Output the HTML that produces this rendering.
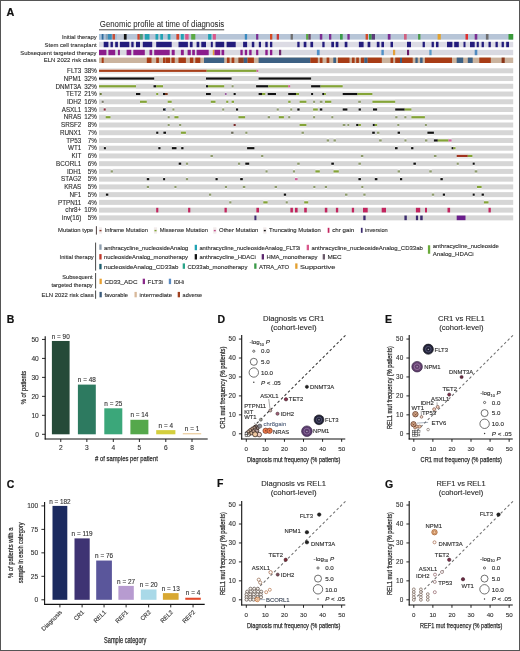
<!DOCTYPE html>
<html><head><meta charset="utf-8"><style>
html,body{margin:0;padding:0;background:#fff;width:520px;height:651px;overflow:hidden;}
svg text{font-family:"Liberation Sans", sans-serif;}
svg{will-change:transform;}
</style></head><body>
<svg width="520" height="651" viewBox="0 0 520 651" style="position:absolute;left:0;top:0" font-family='"Liberation Sans", sans-serif'><rect x="0.00" y="0.00" width="520.00" height="651.00" fill="#ffffff" /><text x="6.60" y="15.60" font-size="10.8" text-anchor="start" fill="#111" font-weight="bold" stroke="#111" stroke-width="0.2"   style="">A</text><text x="99.80" y="26.70" font-size="8.5" text-anchor="start" fill="#2b2b2b" font-weight="normal" stroke="#2b2b2b" stroke-width="0.05" textLength="124.30" lengthAdjust="spacingAndGlyphs"  style="">Genomic profile at time of diagnosis</text><line x1="99" y1="29.8" x2="224.2" y2="29.8" stroke="#333" stroke-width="0.9"/><rect x="99.00" y="34.00" width="414.20" height="5.60" fill="#b7c5d7" /><rect x="99.00" y="34.00" width="2.70" height="5.60" fill="#a7c2dc" /><rect x="101.70" y="34.00" width="2.00" height="5.60" fill="#2f6b9c" /><rect x="103.70" y="34.00" width="2.00" height="5.60" fill="#a7c2dc" /><rect x="105.70" y="34.00" width="2.10" height="5.60" fill="#8aa0b4" /><rect x="107.80" y="34.00" width="4.00" height="5.60" fill="#3a8eb9" /><rect x="112.50" y="34.00" width="2.70" height="5.60" fill="#c4503a" /><rect x="115.20" y="34.00" width="1.80" height="5.60" fill="#a7c2dc" /><rect x="117.00" y="34.00" width="6.90" height="5.60" fill="#c3cad6" /><rect x="123.90" y="34.00" width="2.70" height="5.60" fill="#141414" /><rect x="137.40" y="34.00" width="2.40" height="5.60" fill="#d2452f" /><rect x="139.80" y="34.00" width="3.00" height="5.60" fill="#4a9a7a" /><rect x="144.80" y="34.00" width="4.70" height="5.60" fill="#22a3b4" /><rect x="155.50" y="34.00" width="2.70" height="5.60" fill="#22a3b4" /><rect x="160.30" y="34.00" width="2.70" height="5.60" fill="#22a3b4" /><rect x="167.70" y="34.00" width="2.70" height="5.60" fill="#22a3b4" /><rect x="176.40" y="34.00" width="2.70" height="5.60" fill="#d2452f" /><rect x="180.90" y="34.00" width="2.90" height="5.60" fill="#22a3b4" /><rect x="185.20" y="34.00" width="3.40" height="5.60" fill="#d9588c" /><rect x="191.20" y="34.00" width="4.10" height="5.60" fill="#5aa944" /><rect x="208.10" y="34.00" width="3.30" height="5.60" fill="#22a3b4" /><rect x="212.80" y="34.00" width="3.10" height="5.60" fill="#d9588c" /><rect x="244.80" y="34.00" width="2.30" height="5.60" fill="#3a8ac0" /><rect x="256.10" y="34.00" width="2.20" height="5.60" fill="#7b2e92" /><rect x="270.00" y="34.00" width="2.30" height="5.60" fill="#d44a22" /><rect x="276.70" y="34.00" width="2.30" height="5.60" fill="#c83a3a" /><rect x="290.60" y="34.00" width="2.30" height="5.60" fill="#6e6e6e" /><rect x="306.10" y="34.00" width="2.30" height="5.60" fill="#5aa944" /><rect x="308.40" y="34.00" width="2.30" height="5.60" fill="#6a4a6a" /><rect x="319.80" y="34.00" width="2.50" height="5.60" fill="#7b2e92" /><rect x="329.00" y="34.00" width="2.30" height="5.60" fill="#7b2e92" /><rect x="340.00" y="34.00" width="2.70" height="5.60" fill="#3a9a4a" /><rect x="347.40" y="34.00" width="2.30" height="5.60" fill="#7b2e92" /><rect x="365.60" y="34.00" width="2.40" height="5.60" fill="#d44a2a" /><rect x="369.00" y="34.00" width="2.70" height="5.60" fill="#3a9a4a" /><rect x="371.70" y="34.00" width="3.30" height="5.60" fill="#5a3d78" /><rect x="387.80" y="34.00" width="2.70" height="5.60" fill="#7b2e92" /><rect x="404.00" y="34.00" width="2.70" height="5.60" fill="#d06080" /><rect x="418.10" y="34.00" width="2.30" height="5.60" fill="#4a9a4a" /><rect x="437.60" y="34.00" width="3.20" height="5.60" fill="#e0a232" /><rect x="465.50" y="34.00" width="2.50" height="5.60" fill="#e03030" /><rect x="474.70" y="34.00" width="2.60" height="5.60" fill="#7b2e92" /><rect x="485.90" y="34.00" width="2.60" height="5.60" fill="#6e6e6e" /><rect x="508.50" y="34.00" width="4.70" height="5.60" fill="#3a9a3a" /><rect x="99.00" y="41.80" width="414.20" height="5.40" fill="#dcdbe4" /><rect x="103.70" y="41.80" width="4.70" height="5.40" fill="#241c7c" /><rect x="110.50" y="41.80" width="2.40" height="5.40" fill="#241c7c" /><rect x="115.20" y="41.80" width="2.70" height="5.40" fill="#241c7c" /><rect x="119.90" y="41.80" width="9.40" height="5.40" fill="#241c7c" /><rect x="131.30" y="41.80" width="2.30" height="5.40" fill="#241c7c" /><rect x="136.00" y="41.80" width="4.00" height="5.40" fill="#241c7c" /><rect x="142.80" y="41.80" width="9.40" height="5.40" fill="#241c7c" /><rect x="156.20" y="41.80" width="15.50" height="5.40" fill="#241c7c" /><rect x="178.50" y="41.80" width="9.40" height="5.40" fill="#241c7c" /><rect x="189.90" y="41.80" width="2.70" height="5.40" fill="#241c7c" /><rect x="196.60" y="41.80" width="2.70" height="5.40" fill="#241c7c" /><rect x="201.30" y="41.80" width="4.70" height="5.40" fill="#241c7c" /><rect x="210.80" y="41.80" width="2.00" height="5.40" fill="#241c7c" /><rect x="215.50" y="41.80" width="8.70" height="5.40" fill="#241c7c" /><rect x="226.60" y="41.80" width="9.10" height="5.40" fill="#241c7c" /><rect x="243.10" y="41.80" width="4.00" height="5.40" fill="#241c7c" /><rect x="251.80" y="41.80" width="2.50" height="5.40" fill="#241c7c" /><rect x="258.80" y="41.80" width="2.20" height="5.40" fill="#241c7c" /><rect x="265.30" y="41.80" width="2.40" height="5.40" fill="#241c7c" /><rect x="270.00" y="41.80" width="2.30" height="5.40" fill="#241c7c" /><rect x="297.30" y="41.80" width="2.30" height="5.40" fill="#241c7c" /><rect x="303.70" y="41.80" width="2.70" height="5.40" fill="#241c7c" /><rect x="310.40" y="41.80" width="2.70" height="5.40" fill="#241c7c" /><rect x="322.30" y="41.80" width="2.30" height="5.40" fill="#241c7c" /><rect x="331.30" y="41.80" width="2.70" height="5.40" fill="#241c7c" /><rect x="335.70" y="41.80" width="2.70" height="5.40" fill="#241c7c" /><rect x="344.70" y="41.80" width="2.70" height="5.40" fill="#241c7c" /><rect x="358.90" y="41.80" width="4.70" height="5.40" fill="#241c7c" /><rect x="367.60" y="41.80" width="2.70" height="5.40" fill="#241c7c" /><rect x="376.80" y="41.80" width="2.70" height="5.40" fill="#241c7c" /><rect x="381.40" y="41.80" width="2.60" height="5.40" fill="#241c7c" /><rect x="390.50" y="41.80" width="2.50" height="5.40" fill="#241c7c" /><rect x="407.00" y="41.80" width="4.00" height="5.40" fill="#241c7c" /><rect x="422.60" y="41.80" width="2.30" height="5.40" fill="#241c7c" /><rect x="431.60" y="41.80" width="2.30" height="5.40" fill="#241c7c" /><rect x="436.00" y="41.80" width="2.50" height="5.40" fill="#241c7c" /><rect x="447.00" y="41.80" width="5.40" height="5.40" fill="#241c7c" /><rect x="454.20" y="41.80" width="4.60" height="5.40" fill="#241c7c" /><rect x="463.50" y="41.80" width="2.00" height="5.40" fill="#241c7c" /><rect x="470.00" y="41.80" width="4.70" height="5.40" fill="#241c7c" /><rect x="476.70" y="41.80" width="2.10" height="5.40" fill="#241c7c" /><rect x="481.60" y="41.80" width="2.30" height="5.40" fill="#241c7c" /><rect x="488.50" y="41.80" width="2.30" height="5.40" fill="#241c7c" /><rect x="495.50" y="41.80" width="2.30" height="5.40" fill="#241c7c" /><rect x="501.60" y="41.80" width="2.30" height="5.40" fill="#241c7c" /><rect x="506.20" y="41.80" width="2.80" height="5.40" fill="#241c7c" /><rect x="99.00" y="49.80" width="414.20" height="5.40" fill="#d9d9e1" /><rect x="99.00" y="49.80" width="7.40" height="5.40" fill="#8b1c8c" /><rect x="108.40" y="49.80" width="6.80" height="5.40" fill="#8b1c8c" /><rect x="117.90" y="49.80" width="2.00" height="5.40" fill="#8b1c8c" /><rect x="126.60" y="49.80" width="4.70" height="5.40" fill="#8b1c8c" /><rect x="133.30" y="49.80" width="11.50" height="5.40" fill="#8b1c8c" /><rect x="149.50" y="49.80" width="2.70" height="5.40" fill="#8b1c8c" /><rect x="154.20" y="49.80" width="15.50" height="5.40" fill="#8b1c8c" /><rect x="171.70" y="49.80" width="3.00" height="5.40" fill="#8b1c8c" /><rect x="180.90" y="49.80" width="2.90" height="5.40" fill="#8b1c8c" /><rect x="187.60" y="49.80" width="3.20" height="5.40" fill="#8b1c8c" /><rect x="192.20" y="49.80" width="2.70" height="5.40" fill="#8b1c8c" /><rect x="196.60" y="49.80" width="12.10" height="5.40" fill="#8b1c8c" /><rect x="212.80" y="49.80" width="1.70" height="5.40" fill="#e3a03a" /><rect x="214.50" y="49.80" width="5.70" height="5.40" fill="#8b1c8c" /><rect x="221.50" y="49.80" width="2.70" height="5.40" fill="#8b1c8c" /><rect x="240.40" y="49.80" width="2.30" height="5.40" fill="#8b1c8c" /><rect x="244.80" y="49.80" width="2.30" height="5.40" fill="#8b1c8c" /><rect x="249.20" y="49.80" width="2.40" height="5.40" fill="#8b1c8c" /><rect x="256.10" y="49.80" width="2.20" height="5.40" fill="#8b1c8c" /><rect x="265.30" y="49.80" width="2.40" height="5.40" fill="#8b1c8c" /><rect x="270.00" y="49.80" width="2.30" height="5.40" fill="#8b1c8c" /><rect x="279.00" y="49.80" width="2.20" height="5.40" fill="#6e2a6e" /><rect x="316.90" y="49.80" width="2.70" height="5.40" fill="#4f90c8" /><rect x="381.40" y="49.80" width="2.40" height="5.40" fill="#4f90c8" /><rect x="393.00" y="49.80" width="2.20" height="5.40" fill="#e3a03a" /><rect x="407.00" y="49.80" width="2.10" height="5.40" fill="#6a1a6a" /><rect x="429.30" y="49.80" width="2.30" height="5.40" fill="#5a9ac8" /><rect x="474.70" y="49.80" width="2.60" height="5.40" fill="#4f8ac0" /><rect x="99.00" y="57.60" width="414.20" height="5.40" fill="#cbb49f" /><rect x="101.70" y="57.60" width="2.00" height="5.40" fill="#a83c16" /><rect x="146.80" y="57.60" width="4.70" height="5.40" fill="#a83c16" /><rect x="156.20" y="57.60" width="2.70" height="5.40" fill="#a83c16" /><rect x="163.00" y="57.60" width="2.60" height="5.40" fill="#a83c16" /><rect x="166.00" y="57.60" width="4.00" height="5.40" fill="#a83c16" /><rect x="171.50" y="57.60" width="3.20" height="5.40" fill="#a83c16" /><rect x="178.50" y="57.60" width="7.40" height="5.40" fill="#a83c16" /><rect x="189.90" y="57.60" width="3.40" height="5.40" fill="#a83c16" /><rect x="195.30" y="57.60" width="5.00" height="5.40" fill="#a83c16" /><rect x="204.00" y="57.60" width="20.20" height="5.40" fill="#3d6184" /><rect x="226.90" y="57.60" width="2.70" height="5.40" fill="#a83c16" /><rect x="231.60" y="57.60" width="2.70" height="5.40" fill="#a83c16" /><rect x="238.40" y="57.60" width="5.40" height="5.40" fill="#8e4224" /><rect x="243.80" y="57.60" width="3.70" height="5.40" fill="#3d6184" /><rect x="247.50" y="57.60" width="6.40" height="5.40" fill="#a83c16" /><rect x="258.60" y="57.60" width="51.80" height="5.40" fill="#3d6184" /><rect x="310.40" y="57.60" width="7.40" height="5.40" fill="#a83c16" /><rect x="319.80" y="57.60" width="2.70" height="5.40" fill="#a83c16" /><rect x="326.60" y="57.60" width="2.70" height="5.40" fill="#a83c16" /><rect x="333.30" y="57.60" width="2.70" height="5.40" fill="#3d6184" /><rect x="338.00" y="57.60" width="11.50" height="5.40" fill="#a83c16" /><rect x="351.90" y="57.60" width="2.70" height="5.40" fill="#a83c16" /><rect x="356.20" y="57.60" width="2.70" height="5.40" fill="#a83c16" /><rect x="360.90" y="57.60" width="3.40" height="5.40" fill="#a83c16" /><rect x="364.30" y="57.60" width="3.30" height="5.40" fill="#3d6184" /><rect x="367.60" y="57.60" width="14.20" height="5.40" fill="#a83c16" /><rect x="390.50" y="57.60" width="2.70" height="5.40" fill="#a83c16" /><rect x="395.20" y="57.60" width="4.80" height="5.40" fill="#a83c16" /><rect x="400.00" y="57.60" width="2.00" height="5.40" fill="#3d6184" /><rect x="402.00" y="57.60" width="10.70" height="5.40" fill="#a83c16" /><rect x="415.40" y="57.60" width="2.30" height="5.40" fill="#3d6184" /><rect x="420.10" y="57.60" width="2.50" height="5.40" fill="#3d6184" /><rect x="424.90" y="57.60" width="27.10" height="5.40" fill="#a83c16" /><rect x="456.70" y="57.60" width="6.50" height="5.40" fill="#3d6184" /><rect x="467.80" y="57.60" width="4.90" height="5.40" fill="#3d6184" /><rect x="479.30" y="57.60" width="11.50" height="5.40" fill="#a83c16" /><rect x="501.60" y="57.60" width="3.10" height="5.40" fill="#8a3416" /><text x="61.90" y="38.80" font-size="5.8" text-anchor="start" fill="#2b2b2b" font-weight="normal" stroke="#2b2b2b" stroke-width="0.1" textLength="34.70" lengthAdjust="spacingAndGlyphs"  style="">Initial therapy</text><text x="44.60" y="46.50" font-size="5.8" text-anchor="start" fill="#2b2b2b" font-weight="normal" stroke="#2b2b2b" stroke-width="0.1" textLength="52.00" lengthAdjust="spacingAndGlyphs"  style="">Stem cell transplant</text><text x="20.20" y="54.50" font-size="5.8" text-anchor="start" fill="#2b2b2b" font-weight="normal" stroke="#2b2b2b" stroke-width="0.1" textLength="76.40" lengthAdjust="spacingAndGlyphs"  style="">Subsequent targeted therapy</text><text x="43.80" y="62.30" font-size="5.8" text-anchor="start" fill="#2b2b2b" font-weight="normal" stroke="#2b2b2b" stroke-width="0.1" textLength="52.80" lengthAdjust="spacingAndGlyphs"  style="">ELN 2022 risk class</text><rect x="99.00" y="68.30" width="414.20" height="5.00" fill="#d6d6d6" /><rect x="99.00" y="68.30" width="107.70" height="5.00" fill="#ebebeb" /><rect x="206.70" y="68.30" width="49.90" height="5.00" fill="#ebebeb" /><rect x="256.60" y="68.30" width="1.70" height="5.00" fill="#ebebeb" /><rect x="99.00" y="69.70" width="107.70" height="2.20" fill="#a8401a" /><rect x="206.70" y="69.70" width="49.90" height="2.20" fill="#84a437" /><rect x="256.60" y="69.70" width="1.70" height="2.20" fill="#d0609a" /><text x="81.30" y="73.05" font-size="6.3" text-anchor="end" fill="#2b2b2b" font-weight="normal" stroke="#2b2b2b" stroke-width="0.1"   style="">FLT3</text><text x="96.80" y="73.05" font-size="6.3" text-anchor="end" fill="#2b2b2b" font-weight="normal" stroke="#2b2b2b" stroke-width="0.1"   style="">38%</text><rect x="99.00" y="76.04" width="414.20" height="5.00" fill="#d6d6d6" /><rect x="99.00" y="76.04" width="55.20" height="5.00" fill="#ebebeb" /><rect x="206.00" y="76.04" width="25.60" height="5.00" fill="#ebebeb" /><rect x="258.60" y="76.04" width="52.50" height="5.00" fill="#ebebeb" /><rect x="99.00" y="77.44" width="55.20" height="2.20" fill="#111111" /><rect x="206.00" y="77.44" width="25.60" height="2.20" fill="#111111" /><rect x="258.60" y="77.44" width="52.50" height="2.20" fill="#111111" /><text x="81.30" y="80.79" font-size="6.3" text-anchor="end" fill="#2b2b2b" font-weight="normal" stroke="#2b2b2b" stroke-width="0.1"   style="">NPM1</text><text x="96.80" y="80.79" font-size="6.3" text-anchor="end" fill="#2b2b2b" font-weight="normal" stroke="#2b2b2b" stroke-width="0.1"   style="">32%</text><rect x="99.00" y="83.78" width="414.20" height="5.00" fill="#d6d6d6" /><rect x="99.00" y="83.78" width="37.00" height="5.00" fill="#ebebeb" /><rect x="153.50" y="83.78" width="2.70" height="5.00" fill="#ebebeb" /><rect x="156.20" y="83.78" width="6.80" height="5.00" fill="#ebebeb" /><rect x="206.00" y="83.78" width="2.00" height="5.00" fill="#ebebeb" /><rect x="208.00" y="83.78" width="16.20" height="5.00" fill="#ebebeb" /><rect x="231.60" y="83.78" width="2.00" height="5.00" fill="#ebebeb" /><rect x="256.10" y="83.78" width="12.20" height="5.00" fill="#ebebeb" /><rect x="268.30" y="83.78" width="19.90" height="5.00" fill="#ebebeb" /><rect x="288.20" y="83.78" width="2.00" height="5.00" fill="#ebebeb" /><rect x="311.10" y="83.78" width="9.40" height="5.00" fill="#ebebeb" /><rect x="320.50" y="83.78" width="22.20" height="5.00" fill="#ebebeb" /><rect x="99.00" y="85.18" width="37.00" height="2.20" fill="#84a437" /><rect x="153.50" y="85.18" width="2.70" height="2.20" fill="#111111" /><rect x="156.20" y="85.18" width="6.80" height="2.20" fill="#84a437" /><rect x="206.00" y="85.18" width="2.00" height="2.20" fill="#111111" /><rect x="208.00" y="85.18" width="16.20" height="2.20" fill="#84a437" /><rect x="231.60" y="85.18" width="2.00" height="2.20" fill="#8c9a6a" /><rect x="256.10" y="85.18" width="12.20" height="2.20" fill="#111111" /><rect x="268.30" y="85.18" width="19.90" height="2.20" fill="#84a437" /><rect x="288.20" y="85.18" width="2.00" height="2.20" fill="#d0609a" /><rect x="311.10" y="85.18" width="9.40" height="2.20" fill="#111111" /><rect x="320.50" y="85.18" width="22.20" height="2.20" fill="#84a437" /><text x="81.30" y="88.53" font-size="6.3" text-anchor="end" fill="#2b2b2b" font-weight="normal" stroke="#2b2b2b" stroke-width="0.1"   style="">DNMT3A</text><text x="96.80" y="88.53" font-size="6.3" text-anchor="end" fill="#2b2b2b" font-weight="normal" stroke="#2b2b2b" stroke-width="0.1"   style="">32%</text><rect x="99.00" y="91.52" width="414.20" height="5.00" fill="#d6d6d6" /><rect x="99.70" y="91.52" width="2.00" height="5.00" fill="#ebebeb" /><rect x="136.00" y="91.52" width="4.30" height="5.00" fill="#ebebeb" /><rect x="156.20" y="91.52" width="2.00" height="5.00" fill="#ebebeb" /><rect x="163.00" y="91.52" width="2.00" height="5.00" fill="#ebebeb" /><rect x="165.00" y="91.52" width="2.70" height="5.00" fill="#ebebeb" /><rect x="206.00" y="91.52" width="4.80" height="5.00" fill="#ebebeb" /><rect x="224.90" y="91.52" width="1.70" height="5.00" fill="#ebebeb" /><rect x="233.60" y="91.52" width="2.10" height="5.00" fill="#ebebeb" /><rect x="258.60" y="91.52" width="3.40" height="5.00" fill="#ebebeb" /><rect x="262.00" y="91.52" width="3.30" height="5.00" fill="#ebebeb" /><rect x="267.70" y="91.52" width="8.30" height="5.00" fill="#ebebeb" /><rect x="288.20" y="91.52" width="7.80" height="5.00" fill="#ebebeb" /><rect x="296.00" y="91.52" width="3.00" height="5.00" fill="#ebebeb" /><rect x="311.10" y="91.52" width="2.00" height="5.00" fill="#ebebeb" /><rect x="322.30" y="91.52" width="1.70" height="5.00" fill="#ebebeb" /><rect x="324.00" y="91.52" width="1.90" height="5.00" fill="#ebebeb" /><rect x="342.70" y="91.52" width="14.80" height="5.00" fill="#ebebeb" /><rect x="357.50" y="91.52" width="14.90" height="5.00" fill="#ebebeb" /><rect x="99.70" y="92.92" width="2.00" height="2.20" fill="#6a7a3a" /><rect x="136.00" y="92.92" width="4.30" height="2.20" fill="#111111" /><rect x="156.20" y="92.92" width="2.00" height="2.20" fill="#84a437" /><rect x="163.00" y="92.92" width="2.00" height="2.20" fill="#111111" /><rect x="165.00" y="92.92" width="2.70" height="2.20" fill="#7a3a20" /><rect x="206.00" y="92.92" width="4.80" height="2.20" fill="#111111" /><rect x="224.90" y="92.92" width="1.70" height="2.20" fill="#9a5aa0" /><rect x="233.60" y="92.92" width="2.10" height="2.20" fill="#111111" /><rect x="258.60" y="92.92" width="3.40" height="2.20" fill="#111111" /><rect x="262.00" y="92.92" width="3.30" height="2.20" fill="#84a437" /><rect x="267.70" y="92.92" width="8.30" height="2.20" fill="#111111" /><rect x="288.20" y="92.92" width="7.80" height="2.20" fill="#111111" /><rect x="296.00" y="92.92" width="3.00" height="2.20" fill="#84a437" /><rect x="311.10" y="92.92" width="2.00" height="2.20" fill="#111111" /><rect x="322.30" y="92.92" width="1.70" height="2.20" fill="#111111" /><rect x="324.00" y="92.92" width="1.90" height="2.20" fill="#84a437" /><rect x="342.70" y="92.92" width="14.80" height="2.20" fill="#111111" /><rect x="357.50" y="92.92" width="14.90" height="2.20" fill="#84a437" /><text x="81.30" y="96.27" font-size="6.3" text-anchor="end" fill="#2b2b2b" font-weight="normal" stroke="#2b2b2b" stroke-width="0.1"   style="">TET2</text><text x="96.80" y="96.27" font-size="6.3" text-anchor="end" fill="#2b2b2b" font-weight="normal" stroke="#2b2b2b" stroke-width="0.1"   style="">21%</text><rect x="99.00" y="99.26" width="414.20" height="5.00" fill="#d6d6d6" /><rect x="101.70" y="99.26" width="2.00" height="5.00" fill="#ebebeb" /><rect x="140.00" y="99.26" width="6.80" height="5.00" fill="#ebebeb" /><rect x="167.70" y="99.26" width="4.00" height="5.00" fill="#ebebeb" /><rect x="210.80" y="99.26" width="4.70" height="5.00" fill="#ebebeb" /><rect x="226.20" y="99.26" width="2.10" height="5.00" fill="#ebebeb" /><rect x="231.60" y="99.26" width="2.40" height="5.00" fill="#ebebeb" /><rect x="288.20" y="99.26" width="2.40" height="5.00" fill="#ebebeb" /><rect x="299.60" y="99.26" width="6.80" height="5.00" fill="#ebebeb" /><rect x="313.10" y="99.26" width="2.00" height="5.00" fill="#ebebeb" /><rect x="319.80" y="99.26" width="2.70" height="5.00" fill="#ebebeb" /><rect x="325.00" y="99.26" width="6.30" height="5.00" fill="#ebebeb" /><rect x="358.20" y="99.26" width="2.70" height="5.00" fill="#ebebeb" /><rect x="372.40" y="99.26" width="22.80" height="5.00" fill="#ebebeb" /><rect x="101.70" y="100.66" width="2.00" height="2.20" fill="#7a7a6a" /><rect x="140.00" y="100.66" width="6.80" height="2.20" fill="#84a437" /><rect x="167.70" y="100.66" width="4.00" height="2.20" fill="#84a437" /><rect x="210.80" y="100.66" width="4.70" height="2.20" fill="#84a437" /><rect x="226.20" y="100.66" width="2.10" height="2.20" fill="#84a437" /><rect x="231.60" y="100.66" width="2.40" height="2.20" fill="#84a437" /><rect x="288.20" y="100.66" width="2.40" height="2.20" fill="#84a437" /><rect x="299.60" y="100.66" width="6.80" height="2.20" fill="#84a437" /><rect x="313.10" y="100.66" width="2.00" height="2.20" fill="#8c9a6a" /><rect x="319.80" y="100.66" width="2.70" height="2.20" fill="#8c9a6a" /><rect x="325.00" y="100.66" width="6.30" height="2.20" fill="#84a437" /><rect x="358.20" y="100.66" width="2.70" height="2.20" fill="#8c9a6a" /><rect x="372.40" y="100.66" width="22.80" height="2.20" fill="#84a437" /><text x="81.30" y="104.01" font-size="6.3" text-anchor="end" fill="#2b2b2b" font-weight="normal" stroke="#2b2b2b" stroke-width="0.1"   style="">IDH2</text><text x="96.80" y="104.01" font-size="6.3" text-anchor="end" fill="#2b2b2b" font-weight="normal" stroke="#2b2b2b" stroke-width="0.1"   style="">16%</text><rect x="99.00" y="107.00" width="414.20" height="5.00" fill="#d6d6d6" /><rect x="103.70" y="107.00" width="2.00" height="5.00" fill="#ebebeb" /><rect x="163.00" y="107.00" width="2.60" height="5.00" fill="#ebebeb" /><rect x="165.00" y="107.00" width="1.00" height="5.00" fill="#ebebeb" /><rect x="172.40" y="107.00" width="2.00" height="5.00" fill="#ebebeb" /><rect x="222.20" y="107.00" width="2.00" height="5.00" fill="#ebebeb" /><rect x="236.00" y="107.00" width="2.10" height="5.00" fill="#ebebeb" /><rect x="276.70" y="107.00" width="2.10" height="5.00" fill="#ebebeb" /><rect x="290.20" y="107.00" width="2.00" height="5.00" fill="#ebebeb" /><rect x="297.30" y="107.00" width="2.30" height="5.00" fill="#ebebeb" /><rect x="313.10" y="107.00" width="4.70" height="5.00" fill="#ebebeb" /><rect x="319.80" y="107.00" width="2.50" height="5.00" fill="#ebebeb" /><rect x="342.70" y="107.00" width="4.70" height="5.00" fill="#ebebeb" /><rect x="358.60" y="107.00" width="2.30" height="5.00" fill="#ebebeb" /><rect x="373.00" y="107.00" width="4.10" height="5.00" fill="#ebebeb" /><rect x="395.20" y="107.00" width="9.50" height="5.00" fill="#ebebeb" /><rect x="404.70" y="107.00" width="6.70" height="5.00" fill="#ebebeb" /><rect x="103.70" y="108.40" width="2.00" height="2.20" fill="#8a2a3a" /><rect x="163.00" y="108.40" width="2.60" height="2.20" fill="#111111" /><rect x="165.00" y="108.40" width="1.00" height="2.20" fill="#6a7a9a" /><rect x="172.40" y="108.40" width="2.00" height="2.20" fill="#8c9a6a" /><rect x="222.20" y="108.40" width="2.00" height="2.20" fill="#8c9a6a" /><rect x="236.00" y="108.40" width="2.10" height="2.20" fill="#111111" /><rect x="276.70" y="108.40" width="2.10" height="2.20" fill="#8c9a6a" /><rect x="290.20" y="108.40" width="2.00" height="2.20" fill="#8c9a6a" /><rect x="297.30" y="108.40" width="2.30" height="2.20" fill="#111111" /><rect x="313.10" y="108.40" width="4.70" height="2.20" fill="#84a437" /><rect x="319.80" y="108.40" width="2.50" height="2.20" fill="#111111" /><rect x="342.70" y="108.40" width="4.70" height="2.20" fill="#111111" /><rect x="358.60" y="108.40" width="2.30" height="2.20" fill="#111111" /><rect x="373.00" y="108.40" width="4.10" height="2.20" fill="#111111" /><rect x="395.20" y="108.40" width="9.50" height="2.20" fill="#111111" /><rect x="404.70" y="108.40" width="6.70" height="2.20" fill="#84a437" /><text x="81.30" y="111.75" font-size="6.3" text-anchor="end" fill="#2b2b2b" font-weight="normal" stroke="#2b2b2b" stroke-width="0.1"   style="">ASXL1</text><text x="96.80" y="111.75" font-size="6.3" text-anchor="end" fill="#2b2b2b" font-weight="normal" stroke="#2b2b2b" stroke-width="0.1"   style="">13%</text><rect x="99.00" y="114.74" width="414.20" height="5.00" fill="#d6d6d6" /><rect x="105.70" y="114.74" width="4.80" height="5.00" fill="#ebebeb" /><rect x="167.70" y="114.74" width="2.00" height="5.00" fill="#ebebeb" /><rect x="174.40" y="114.74" width="4.10" height="5.00" fill="#ebebeb" /><rect x="238.40" y="114.74" width="6.70" height="5.00" fill="#ebebeb" /><rect x="267.70" y="114.74" width="2.30" height="5.00" fill="#ebebeb" /><rect x="278.80" y="114.74" width="5.10" height="5.00" fill="#ebebeb" /><rect x="288.20" y="114.74" width="2.00" height="5.00" fill="#ebebeb" /><rect x="313.10" y="114.74" width="2.00" height="5.00" fill="#ebebeb" /><rect x="331.30" y="114.74" width="2.00" height="5.00" fill="#ebebeb" /><rect x="395.20" y="114.74" width="2.30" height="5.00" fill="#ebebeb" /><rect x="404.30" y="114.74" width="2.10" height="5.00" fill="#ebebeb" /><rect x="411.40" y="114.74" width="13.50" height="5.00" fill="#ebebeb" /><rect x="105.70" y="116.14" width="4.80" height="2.20" fill="#84a437" /><rect x="167.70" y="116.14" width="2.00" height="2.20" fill="#8c9a6a" /><rect x="174.40" y="116.14" width="4.10" height="2.20" fill="#84a437" /><rect x="238.40" y="116.14" width="6.70" height="2.20" fill="#84a437" /><rect x="267.70" y="116.14" width="2.30" height="2.20" fill="#8c9a6a" /><rect x="278.80" y="116.14" width="5.10" height="2.20" fill="#84a437" /><rect x="288.20" y="116.14" width="2.00" height="2.20" fill="#8c9a6a" /><rect x="313.10" y="116.14" width="2.00" height="2.20" fill="#8c9a6a" /><rect x="331.30" y="116.14" width="2.00" height="2.20" fill="#8c9a6a" /><rect x="395.20" y="116.14" width="2.30" height="2.20" fill="#8c9a6a" /><rect x="404.30" y="116.14" width="2.10" height="2.20" fill="#8c9a6a" /><rect x="411.40" y="116.14" width="13.50" height="2.20" fill="#84a437" /><text x="81.30" y="119.49" font-size="6.3" text-anchor="end" fill="#2b2b2b" font-weight="normal" stroke="#2b2b2b" stroke-width="0.1"   style="">NRAS</text><text x="96.80" y="119.49" font-size="6.3" text-anchor="end" fill="#2b2b2b" font-weight="normal" stroke="#2b2b2b" stroke-width="0.1"   style="">12%</text><rect x="99.00" y="122.48" width="414.20" height="5.00" fill="#d6d6d6" /><rect x="167.70" y="122.48" width="2.00" height="5.00" fill="#ebebeb" /><rect x="179.10" y="122.48" width="2.10" height="5.00" fill="#ebebeb" /><rect x="233.60" y="122.48" width="2.10" height="5.00" fill="#ebebeb" /><rect x="299.60" y="122.48" width="6.80" height="5.00" fill="#ebebeb" /><rect x="342.70" y="122.48" width="2.70" height="5.00" fill="#ebebeb" /><rect x="347.40" y="122.48" width="1.80" height="5.00" fill="#ebebeb" /><rect x="356.20" y="122.48" width="2.30" height="5.00" fill="#ebebeb" /><rect x="358.50" y="122.48" width="2.40" height="5.00" fill="#ebebeb" /><rect x="372.80" y="122.48" width="2.00" height="5.00" fill="#ebebeb" /><rect x="374.80" y="122.48" width="2.30" height="5.00" fill="#ebebeb" /><rect x="397.30" y="122.48" width="2.00" height="5.00" fill="#ebebeb" /><rect x="424.90" y="122.48" width="2.00" height="5.00" fill="#ebebeb" /><rect x="167.70" y="123.88" width="2.00" height="2.20" fill="#8c9a6a" /><rect x="179.10" y="123.88" width="2.10" height="2.20" fill="#8c9a6a" /><rect x="233.60" y="123.88" width="2.10" height="2.20" fill="#7a2a2a" /><rect x="299.60" y="123.88" width="6.80" height="2.20" fill="#84a437" /><rect x="342.70" y="123.88" width="2.70" height="2.20" fill="#8c9a6a" /><rect x="347.40" y="123.88" width="1.80" height="2.20" fill="#8c9a6a" /><rect x="356.20" y="123.88" width="2.30" height="2.20" fill="#111111" /><rect x="358.50" y="123.88" width="2.40" height="2.20" fill="#84a437" /><rect x="372.80" y="123.88" width="2.00" height="2.20" fill="#111111" /><rect x="374.80" y="123.88" width="2.30" height="2.20" fill="#84a437" /><rect x="397.30" y="123.88" width="2.00" height="2.20" fill="#8c9a6a" /><rect x="424.90" y="123.88" width="2.00" height="2.20" fill="#8c9a6a" /><text x="81.30" y="127.23" font-size="6.3" text-anchor="end" fill="#2b2b2b" font-weight="normal" stroke="#2b2b2b" stroke-width="0.1"   style="">SRSF2</text><text x="96.80" y="127.23" font-size="6.3" text-anchor="end" fill="#2b2b2b" font-weight="normal" stroke="#2b2b2b" stroke-width="0.1"   style="">8%</text><rect x="99.00" y="130.22" width="414.20" height="5.00" fill="#d6d6d6" /><rect x="156.20" y="130.22" width="2.10" height="5.00" fill="#ebebeb" /><rect x="163.40" y="130.22" width="2.60" height="5.00" fill="#ebebeb" /><rect x="180.90" y="130.22" width="5.00" height="5.00" fill="#ebebeb" /><rect x="231.10" y="130.22" width="2.40" height="5.00" fill="#ebebeb" /><rect x="245.30" y="130.22" width="2.10" height="5.00" fill="#ebebeb" /><rect x="301.50" y="130.22" width="2.40" height="5.00" fill="#ebebeb" /><rect x="372.20" y="130.22" width="2.60" height="5.00" fill="#ebebeb" /><rect x="376.90" y="130.22" width="2.50" height="5.00" fill="#ebebeb" /><rect x="397.60" y="130.22" width="2.40" height="5.00" fill="#ebebeb" /><rect x="427.40" y="130.22" width="6.50" height="5.00" fill="#ebebeb" /><rect x="156.20" y="131.62" width="2.10" height="2.20" fill="#111111" /><rect x="163.40" y="131.62" width="2.60" height="2.20" fill="#111111" /><rect x="180.90" y="131.62" width="5.00" height="2.20" fill="#84a437" /><rect x="231.10" y="131.62" width="2.40" height="2.20" fill="#6a6a5a" /><rect x="245.30" y="131.62" width="2.10" height="2.20" fill="#8c9a6a" /><rect x="301.50" y="131.62" width="2.40" height="2.20" fill="#8c9a6a" /><rect x="372.20" y="131.62" width="2.60" height="2.20" fill="#111111" /><rect x="376.90" y="131.62" width="2.50" height="2.20" fill="#8c9a6a" /><rect x="397.60" y="131.62" width="2.40" height="2.20" fill="#111111" /><rect x="427.40" y="131.62" width="6.50" height="2.20" fill="#111111" /><text x="81.30" y="134.97" font-size="6.3" text-anchor="end" fill="#2b2b2b" font-weight="normal" stroke="#2b2b2b" stroke-width="0.1"   style="">RUNX1</text><text x="96.80" y="134.97" font-size="6.3" text-anchor="end" fill="#2b2b2b" font-weight="normal" stroke="#2b2b2b" stroke-width="0.1"   style="">7%</text><rect x="99.00" y="137.96" width="414.20" height="5.00" fill="#d6d6d6" /><rect x="326.70" y="137.96" width="2.40" height="5.00" fill="#ebebeb" /><rect x="333.50" y="137.96" width="2.40" height="5.00" fill="#ebebeb" /><rect x="379.10" y="137.96" width="2.60" height="5.00" fill="#ebebeb" /><rect x="404.40" y="137.96" width="2.10" height="5.00" fill="#ebebeb" /><rect x="425.00" y="137.96" width="2.40" height="5.00" fill="#ebebeb" /><rect x="433.90" y="137.96" width="3.90" height="5.00" fill="#ebebeb" /><rect x="437.80" y="137.96" width="10.70" height="5.00" fill="#ebebeb" /><rect x="448.50" y="137.96" width="3.10" height="5.00" fill="#ebebeb" /><rect x="326.70" y="139.36" width="2.40" height="2.20" fill="#8c9a6a" /><rect x="333.50" y="139.36" width="2.40" height="2.20" fill="#8c9a6a" /><rect x="379.10" y="139.36" width="2.60" height="2.20" fill="#8c9a6a" /><rect x="404.40" y="139.36" width="2.10" height="2.20" fill="#8c9a6a" /><rect x="425.00" y="139.36" width="2.40" height="2.20" fill="#8c9a6a" /><rect x="433.90" y="139.36" width="3.90" height="2.20" fill="#111111" /><rect x="437.80" y="139.36" width="10.70" height="2.20" fill="#84a437" /><rect x="448.50" y="139.36" width="3.10" height="2.20" fill="#d0609a" /><text x="81.30" y="142.71" font-size="6.3" text-anchor="end" fill="#2b2b2b" font-weight="normal" stroke="#2b2b2b" stroke-width="0.1"   style="">TP53</text><text x="96.80" y="142.71" font-size="6.3" text-anchor="end" fill="#2b2b2b" font-weight="normal" stroke="#2b2b2b" stroke-width="0.1"   style="">7%</text><rect x="99.00" y="145.70" width="414.20" height="5.00" fill="#d6d6d6" /><rect x="103.90" y="145.70" width="2.00" height="5.00" fill="#ebebeb" /><rect x="158.30" y="145.70" width="2.20" height="5.00" fill="#ebebeb" /><rect x="171.90" y="145.70" width="4.60" height="5.00" fill="#ebebeb" /><rect x="181.20" y="145.70" width="2.30" height="5.00" fill="#ebebeb" /><rect x="247.10" y="145.70" width="7.30" height="5.00" fill="#ebebeb" /><rect x="395.00" y="145.70" width="2.60" height="5.00" fill="#ebebeb" /><rect x="411.10" y="145.70" width="2.30" height="5.00" fill="#ebebeb" /><rect x="451.60" y="145.70" width="1.90" height="5.00" fill="#ebebeb" /><rect x="453.50" y="145.70" width="2.00" height="5.00" fill="#ebebeb" /><rect x="103.90" y="147.10" width="2.00" height="2.20" fill="#111111" /><rect x="158.30" y="147.10" width="2.20" height="2.20" fill="#111111" /><rect x="171.90" y="147.10" width="4.60" height="2.20" fill="#111111" /><rect x="181.20" y="147.10" width="2.30" height="2.20" fill="#111111" /><rect x="247.10" y="147.10" width="7.30" height="2.20" fill="#111111" /><rect x="395.00" y="147.10" width="2.60" height="2.20" fill="#111111" /><rect x="411.10" y="147.10" width="2.30" height="2.20" fill="#111111" /><rect x="451.60" y="147.10" width="1.90" height="2.20" fill="#111111" /><rect x="453.50" y="147.10" width="2.00" height="2.20" fill="#84a437" /><text x="81.30" y="150.45" font-size="6.3" text-anchor="end" fill="#2b2b2b" font-weight="normal" stroke="#2b2b2b" stroke-width="0.1"   style="">WT1</text><text x="96.80" y="150.45" font-size="6.3" text-anchor="end" fill="#2b2b2b" font-weight="normal" stroke="#2b2b2b" stroke-width="0.1"   style="">7%</text><rect x="99.00" y="153.44" width="414.20" height="5.00" fill="#d6d6d6" /><rect x="210.50" y="153.44" width="2.40" height="5.00" fill="#ebebeb" /><rect x="261.10" y="153.44" width="2.20" height="5.00" fill="#ebebeb" /><rect x="360.90" y="153.44" width="2.40" height="5.00" fill="#ebebeb" /><rect x="433.90" y="153.44" width="2.60" height="5.00" fill="#ebebeb" /><rect x="456.70" y="153.44" width="11.10" height="5.00" fill="#ebebeb" /><rect x="467.80" y="153.44" width="4.60" height="5.00" fill="#ebebeb" /><rect x="210.50" y="154.84" width="2.40" height="2.20" fill="#8c9a6a" /><rect x="261.10" y="154.84" width="2.20" height="2.20" fill="#8c9a6a" /><rect x="360.90" y="154.84" width="2.40" height="2.20" fill="#8c9a6a" /><rect x="433.90" y="154.84" width="2.60" height="2.20" fill="#8c9a6a" /><rect x="456.70" y="154.84" width="11.10" height="2.20" fill="#a0341e" /><rect x="467.80" y="154.84" width="4.60" height="2.20" fill="#84a437" /><text x="81.30" y="158.19" font-size="6.3" text-anchor="end" fill="#2b2b2b" font-weight="normal" stroke="#2b2b2b" stroke-width="0.1"   style="">KIT</text><text x="96.80" y="158.19" font-size="6.3" text-anchor="end" fill="#2b2b2b" font-weight="normal" stroke="#2b2b2b" stroke-width="0.1"   style="">6%</text><rect x="99.00" y="161.18" width="414.20" height="5.00" fill="#d6d6d6" /><rect x="178.70" y="161.18" width="2.50" height="5.00" fill="#ebebeb" /><rect x="185.90" y="161.18" width="2.20" height="5.00" fill="#ebebeb" /><rect x="238.00" y="161.18" width="2.20" height="5.00" fill="#ebebeb" /><rect x="245.30" y="161.18" width="3.90" height="5.00" fill="#ebebeb" /><rect x="297.20" y="161.18" width="2.50" height="5.00" fill="#ebebeb" /><rect x="331.30" y="161.18" width="2.60" height="5.00" fill="#ebebeb" /><rect x="358.40" y="161.18" width="2.50" height="5.00" fill="#ebebeb" /><rect x="413.40" y="161.18" width="2.50" height="5.00" fill="#ebebeb" /><rect x="456.70" y="161.18" width="2.10" height="5.00" fill="#ebebeb" /><rect x="472.70" y="161.18" width="2.00" height="5.00" fill="#ebebeb" /><rect x="178.70" y="162.58" width="2.50" height="2.20" fill="#111111" /><rect x="185.90" y="162.58" width="2.20" height="2.20" fill="#8c9a6a" /><rect x="238.00" y="162.58" width="2.20" height="2.20" fill="#8c9a6a" /><rect x="245.30" y="162.58" width="3.90" height="2.20" fill="#111111" /><rect x="297.20" y="162.58" width="2.50" height="2.20" fill="#8c9a6a" /><rect x="331.30" y="162.58" width="2.60" height="2.20" fill="#111111" /><rect x="358.40" y="162.58" width="2.50" height="2.20" fill="#8c9a6a" /><rect x="413.40" y="162.58" width="2.50" height="2.20" fill="#111111" /><rect x="456.70" y="162.58" width="2.10" height="2.20" fill="#8c9a6a" /><rect x="472.70" y="162.58" width="2.00" height="2.20" fill="#111111" /><text x="81.30" y="165.93" font-size="6.3" text-anchor="end" fill="#2b2b2b" font-weight="normal" stroke="#2b2b2b" stroke-width="0.1"   style="">BCORL1</text><text x="96.80" y="165.93" font-size="6.3" text-anchor="end" fill="#2b2b2b" font-weight="normal" stroke="#2b2b2b" stroke-width="0.1"   style="">6%</text><rect x="99.00" y="168.92" width="414.20" height="5.00" fill="#d6d6d6" /><rect x="110.70" y="168.92" width="2.20" height="5.00" fill="#ebebeb" /><rect x="265.50" y="168.92" width="2.10" height="5.00" fill="#ebebeb" /><rect x="292.90" y="168.92" width="2.10" height="5.00" fill="#ebebeb" /><rect x="315.40" y="168.92" width="4.40" height="5.00" fill="#ebebeb" /><rect x="333.50" y="168.92" width="5.30" height="5.00" fill="#ebebeb" /><rect x="397.60" y="168.92" width="2.40" height="5.00" fill="#ebebeb" /><rect x="429.30" y="168.92" width="2.50" height="5.00" fill="#ebebeb" /><rect x="474.70" y="168.92" width="2.60" height="5.00" fill="#ebebeb" /><rect x="110.70" y="170.32" width="2.20" height="2.20" fill="#8c9a6a" /><rect x="265.50" y="170.32" width="2.10" height="2.20" fill="#8c9a6a" /><rect x="292.90" y="170.32" width="2.10" height="2.20" fill="#8c9a6a" /><rect x="315.40" y="170.32" width="4.40" height="2.20" fill="#84a437" /><rect x="333.50" y="170.32" width="5.30" height="2.20" fill="#84a437" /><rect x="397.60" y="170.32" width="2.40" height="2.20" fill="#8c9a6a" /><rect x="429.30" y="170.32" width="2.50" height="2.20" fill="#8c9a6a" /><rect x="474.70" y="170.32" width="2.60" height="2.20" fill="#8c9a6a" /><text x="81.30" y="173.67" font-size="6.3" text-anchor="end" fill="#2b2b2b" font-weight="normal" stroke="#2b2b2b" stroke-width="0.1"   style="">IDH1</text><text x="96.80" y="173.67" font-size="6.3" text-anchor="end" fill="#2b2b2b" font-weight="normal" stroke="#2b2b2b" stroke-width="0.1"   style="">5%</text><rect x="99.00" y="176.66" width="414.20" height="5.00" fill="#d6d6d6" /><rect x="146.80" y="176.66" width="2.40" height="5.00" fill="#ebebeb" /><rect x="163.10" y="176.66" width="2.00" height="5.00" fill="#ebebeb" /><rect x="185.90" y="176.66" width="2.20" height="5.00" fill="#ebebeb" /><rect x="215.50" y="176.66" width="2.20" height="5.00" fill="#ebebeb" /><rect x="240.20" y="176.66" width="2.60" height="5.00" fill="#ebebeb" /><rect x="295.00" y="176.66" width="2.60" height="5.00" fill="#ebebeb" /><rect x="358.40" y="176.66" width="2.50" height="5.00" fill="#ebebeb" /><rect x="374.80" y="176.66" width="2.60" height="5.00" fill="#ebebeb" /><rect x="400.00" y="176.66" width="2.20" height="5.00" fill="#ebebeb" /><rect x="440.40" y="176.66" width="2.40" height="5.00" fill="#ebebeb" /><rect x="146.80" y="178.06" width="2.40" height="2.20" fill="#111111" /><rect x="163.10" y="178.06" width="2.00" height="2.20" fill="#111111" /><rect x="185.90" y="178.06" width="2.20" height="2.20" fill="#8c9a6a" /><rect x="215.50" y="178.06" width="2.20" height="2.20" fill="#111111" /><rect x="240.20" y="178.06" width="2.60" height="2.20" fill="#111111" /><rect x="295.00" y="178.06" width="2.60" height="2.20" fill="#d0609a" /><rect x="358.40" y="178.06" width="2.50" height="2.20" fill="#111111" /><rect x="374.80" y="178.06" width="2.60" height="2.20" fill="#111111" /><rect x="400.00" y="178.06" width="2.20" height="2.20" fill="#111111" /><rect x="440.40" y="178.06" width="2.40" height="2.20" fill="#111111" /><text x="81.30" y="181.41" font-size="6.3" text-anchor="end" fill="#2b2b2b" font-weight="normal" stroke="#2b2b2b" stroke-width="0.1"   style="">STAG2</text><text x="96.80" y="181.41" font-size="6.3" text-anchor="end" fill="#2b2b2b" font-weight="normal" stroke="#2b2b2b" stroke-width="0.1"   style="">5%</text><rect x="99.00" y="184.40" width="414.20" height="5.00" fill="#d6d6d6" /><rect x="146.80" y="184.40" width="2.20" height="5.00" fill="#ebebeb" /><rect x="174.40" y="184.40" width="2.10" height="5.00" fill="#ebebeb" /><rect x="224.90" y="184.40" width="2.10" height="5.00" fill="#ebebeb" /><rect x="242.80" y="184.40" width="2.50" height="5.00" fill="#ebebeb" /><rect x="274.60" y="184.40" width="2.40" height="5.00" fill="#ebebeb" /><rect x="313.30" y="184.40" width="2.10" height="5.00" fill="#ebebeb" /><rect x="324.80" y="184.40" width="2.20" height="5.00" fill="#ebebeb" /><rect x="361.30" y="184.40" width="2.00" height="5.00" fill="#ebebeb" /><rect x="477.00" y="184.40" width="4.60" height="5.00" fill="#ebebeb" /><rect x="146.80" y="185.80" width="2.20" height="2.20" fill="#8c9a6a" /><rect x="174.40" y="185.80" width="2.10" height="2.20" fill="#8c9a6a" /><rect x="224.90" y="185.80" width="2.10" height="2.20" fill="#8c9a6a" /><rect x="242.80" y="185.80" width="2.50" height="2.20" fill="#8c9a6a" /><rect x="274.60" y="185.80" width="2.40" height="2.20" fill="#8c9a6a" /><rect x="313.30" y="185.80" width="2.10" height="2.20" fill="#8c9a6a" /><rect x="324.80" y="185.80" width="2.20" height="2.20" fill="#8c9a6a" /><rect x="361.30" y="185.80" width="2.00" height="2.20" fill="#8c9a6a" /><rect x="477.00" y="185.80" width="4.60" height="2.20" fill="#84a437" /><text x="81.30" y="189.15" font-size="6.3" text-anchor="end" fill="#2b2b2b" font-weight="normal" stroke="#2b2b2b" stroke-width="0.1"   style="">KRAS</text><text x="96.80" y="189.15" font-size="6.3" text-anchor="end" fill="#2b2b2b" font-weight="normal" stroke="#2b2b2b" stroke-width="0.1"   style="">5%</text><rect x="99.00" y="192.14" width="414.20" height="5.00" fill="#d6d6d6" /><rect x="105.90" y="192.14" width="2.40" height="5.00" fill="#ebebeb" /><rect x="209.00" y="192.14" width="2.20" height="5.00" fill="#ebebeb" /><rect x="283.80" y="192.14" width="2.30" height="5.00" fill="#ebebeb" /><rect x="345.00" y="192.14" width="2.50" height="5.00" fill="#ebebeb" /><rect x="363.30" y="192.14" width="2.30" height="5.00" fill="#ebebeb" /><rect x="431.80" y="192.14" width="2.40" height="5.00" fill="#ebebeb" /><rect x="442.80" y="192.14" width="2.20" height="5.00" fill="#ebebeb" /><rect x="472.70" y="192.14" width="2.00" height="5.00" fill="#ebebeb" /><rect x="481.60" y="192.14" width="2.30" height="5.00" fill="#ebebeb" /><rect x="105.90" y="193.54" width="2.40" height="2.20" fill="#111111" /><rect x="209.00" y="193.54" width="2.20" height="2.20" fill="#8c9a6a" /><rect x="283.80" y="193.54" width="2.30" height="2.20" fill="#111111" /><rect x="345.00" y="193.54" width="2.50" height="2.20" fill="#8c9a6a" /><rect x="363.30" y="193.54" width="2.30" height="2.20" fill="#8c9a6a" /><rect x="431.80" y="193.54" width="2.40" height="2.20" fill="#8c9a6a" /><rect x="442.80" y="193.54" width="2.20" height="2.20" fill="#111111" /><rect x="472.70" y="193.54" width="2.00" height="2.20" fill="#111111" /><rect x="481.60" y="193.54" width="2.30" height="2.20" fill="#111111" /><text x="81.30" y="196.89" font-size="6.3" text-anchor="end" fill="#2b2b2b" font-weight="normal" stroke="#2b2b2b" stroke-width="0.1"   style="">NF1</text><text x="96.80" y="196.89" font-size="6.3" text-anchor="end" fill="#2b2b2b" font-weight="normal" stroke="#2b2b2b" stroke-width="0.1"   style="">5%</text><rect x="99.00" y="199.88" width="414.20" height="5.00" fill="#d6d6d6" /><rect x="229.20" y="199.88" width="2.20" height="5.00" fill="#ebebeb" /><rect x="263.30" y="199.88" width="4.30" height="5.00" fill="#ebebeb" /><rect x="285.70" y="199.88" width="2.10" height="5.00" fill="#ebebeb" /><rect x="304.20" y="199.88" width="4.00" height="5.00" fill="#ebebeb" /><rect x="483.90" y="199.88" width="4.60" height="5.00" fill="#ebebeb" /><rect x="229.20" y="201.28" width="2.20" height="2.20" fill="#8c9a6a" /><rect x="263.30" y="201.28" width="4.30" height="2.20" fill="#84a437" /><rect x="285.70" y="201.28" width="2.10" height="2.20" fill="#8c9a6a" /><rect x="304.20" y="201.28" width="4.00" height="2.20" fill="#84a437" /><rect x="483.90" y="201.28" width="4.60" height="2.20" fill="#84a437" /><text x="81.30" y="204.63" font-size="6.3" text-anchor="end" fill="#2b2b2b" font-weight="normal" stroke="#2b2b2b" stroke-width="0.1"   style="">PTPN11</text><text x="96.80" y="204.63" font-size="6.3" text-anchor="end" fill="#2b2b2b" font-weight="normal" stroke="#2b2b2b" stroke-width="0.1"   style="">4%</text><rect x="99.00" y="207.62" width="414.20" height="5.00" fill="#d6d6d6" /><rect x="156.20" y="207.82" width="2.10" height="4.60" fill="#c2245e" /><rect x="188.10" y="207.82" width="2.20" height="4.60" fill="#c2245e" /><rect x="224.50" y="207.82" width="2.30" height="4.60" fill="#c2245e" /><rect x="256.40" y="207.82" width="2.60" height="4.60" fill="#c2245e" /><rect x="290.40" y="207.82" width="2.50" height="4.60" fill="#c2245e" /><rect x="295.00" y="207.82" width="2.60" height="4.60" fill="#c2245e" /><rect x="304.20" y="207.82" width="2.60" height="4.60" fill="#c2245e" /><rect x="324.80" y="207.82" width="2.50" height="4.60" fill="#c2245e" /><rect x="335.90" y="207.82" width="2.30" height="4.60" fill="#c2245e" /><rect x="351.80" y="207.82" width="2.30" height="4.60" fill="#c2245e" /><rect x="363.00" y="207.82" width="4.70" height="4.60" fill="#c2245e" /><rect x="381.70" y="207.82" width="4.30" height="4.60" fill="#c2245e" /><rect x="415.90" y="207.82" width="4.30" height="4.60" fill="#c2245e" /><rect x="425.00" y="207.82" width="2.00" height="4.60" fill="#c2245e" /><rect x="447.50" y="207.82" width="2.60" height="4.60" fill="#c2245e" /><rect x="488.50" y="207.82" width="2.30" height="4.60" fill="#c2245e" /><text x="81.30" y="212.37" font-size="6.3" text-anchor="end" fill="#2b2b2b" font-weight="normal" stroke="#2b2b2b" stroke-width="0.1"   style="">chr8+</text><text x="96.80" y="212.37" font-size="6.3" text-anchor="end" fill="#2b2b2b" font-weight="normal" stroke="#2b2b2b" stroke-width="0.1"   style="">10%</text><rect x="99.00" y="215.36" width="414.20" height="5.00" fill="#d6d6d6" /><rect x="254.40" y="215.56" width="2.00" height="4.60" fill="#3b2a6e" /><rect x="363.30" y="215.56" width="2.30" height="4.60" fill="#3b2a6e" /><rect x="404.40" y="215.56" width="2.40" height="4.60" fill="#3b2a6e" /><rect x="415.90" y="215.56" width="2.20" height="4.60" fill="#3b2a6e" /><rect x="420.20" y="215.56" width="2.50" height="4.60" fill="#3b2a6e" /><rect x="456.70" y="215.56" width="8.80" height="4.60" fill="#6a1e8c" /><text x="81.30" y="220.11" font-size="6.3" text-anchor="end" fill="#2b2b2b" font-weight="normal" stroke="#2b2b2b" stroke-width="0.1"   style="">inv(16)</text><text x="96.80" y="220.11" font-size="6.3" text-anchor="end" fill="#2b2b2b" font-weight="normal" stroke="#2b2b2b" stroke-width="0.1"   style="">5%</text><text x="58.00" y="232.40" font-size="6.2" text-anchor="start" fill="#2b2b2b" font-weight="normal" stroke="#2b2b2b" stroke-width="0.12" textLength="35.40" lengthAdjust="spacingAndGlyphs"  style="">Mutation type</text><line x1="96.4" y1="226.2" x2="96.4" y2="234.6" stroke="#3a2a2a" stroke-width="0.9"/><rect x="98.90" y="227.30" width="3.20" height="6.30" fill="#f2ecec" /><rect x="99.50" y="229.90" width="2.00" height="1.40" fill="#8a3a2a" /><text x="104.70" y="232.30" font-size="6.0" text-anchor="start" fill="#2b2b2b" font-weight="normal" stroke="#2b2b2b" stroke-width="0.12" textLength="43.20" lengthAdjust="spacingAndGlyphs"  style="">Inframe Mutation</text><rect x="153.90" y="227.30" width="3.20" height="6.30" fill="#f2ecec" /><rect x="154.50" y="229.90" width="2.00" height="1.40" fill="#7da433" /><text x="159.70" y="232.30" font-size="6.0" text-anchor="start" fill="#2b2b2b" font-weight="normal" stroke="#2b2b2b" stroke-width="0.12" textLength="48.20" lengthAdjust="spacingAndGlyphs"  style="">Missense Mutation</text><rect x="213.20" y="227.30" width="3.20" height="6.30" fill="#f2ecec" /><rect x="213.80" y="229.90" width="2.00" height="1.40" fill="#c0508a" /><text x="219.00" y="232.30" font-size="6.0" text-anchor="start" fill="#2b2b2b" font-weight="normal" stroke="#2b2b2b" stroke-width="0.12" textLength="39.40" lengthAdjust="spacingAndGlyphs"  style="">Other Mutation</text><rect x="263.20" y="227.30" width="3.20" height="6.30" fill="#f2ecec" /><rect x="263.80" y="229.90" width="2.00" height="1.40" fill="#111" /><text x="269.00" y="232.30" font-size="6.0" text-anchor="start" fill="#2b2b2b" font-weight="normal" stroke="#2b2b2b" stroke-width="0.12" textLength="51.90" lengthAdjust="spacingAndGlyphs"  style="">Truncating Mutation</text><rect x="327.70" y="227.80" width="1.70" height="5.00" fill="#c2245e" /><text x="332.30" y="232.30" font-size="6.0" text-anchor="start" fill="#2b2b2b" font-weight="normal" stroke="#2b2b2b" stroke-width="0.12" textLength="21.90" lengthAdjust="spacingAndGlyphs"  style="">chr gain</text><rect x="360.90" y="227.80" width="1.70" height="5.00" fill="#3b2a6e" /><text x="365.00" y="232.30" font-size="6.0" text-anchor="start" fill="#2b2b2b" font-weight="normal" stroke="#2b2b2b" stroke-width="0.12" textLength="22.70" lengthAdjust="spacingAndGlyphs"  style="">inversion</text><text x="59.60" y="258.80" font-size="6.2" text-anchor="start" fill="#2b2b2b" font-weight="normal" stroke="#2b2b2b" stroke-width="0.12" textLength="34.10" lengthAdjust="spacingAndGlyphs"  style="">Initial therapy</text><line x1="95.6" y1="242.6" x2="95.6" y2="270.6" stroke="#333" stroke-width="0.9"/><rect x="99.30" y="244.40" width="2.30" height="5.40" fill="#8c9cac" /><text x="104.00" y="249.50" font-size="6.0" text-anchor="start" fill="#2b2b2b" font-weight="normal" stroke="#2b2b2b" stroke-width="0.12" textLength="84.40" lengthAdjust="spacingAndGlyphs"  style="">anthracycline_nucleosideAnalog</text><rect x="194.70" y="244.80" width="2.30" height="5.40" fill="#22a3b4" /><text x="199.40" y="249.90" font-size="6.0" text-anchor="start" fill="#2b2b2b" font-weight="normal" stroke="#2b2b2b" stroke-width="0.12" textLength="101.00" lengthAdjust="spacingAndGlyphs"  style="">anthracycline_nucleosideAnalog_FLT3i</text><rect x="306.70" y="244.80" width="2.30" height="5.40" fill="#d9588c" /><text x="311.40" y="249.90" font-size="6.0" text-anchor="start" fill="#2b2b2b" font-weight="normal" stroke="#2b2b2b" stroke-width="0.12" textLength="111.50" lengthAdjust="spacingAndGlyphs"  style="">anthracycline_nucleosideAnalog_CD33ab</text><rect x="99.30" y="254.10" width="2.30" height="5.40" fill="#c0382a" /><text x="104.00" y="259.20" font-size="6.0" text-anchor="start" fill="#2b2b2b" font-weight="normal" stroke="#2b2b2b" stroke-width="0.12" textLength="83.90" lengthAdjust="spacingAndGlyphs"  style="">nucleosideAnalog_monotherapy</text><rect x="194.70" y="254.10" width="2.30" height="5.40" fill="#141414" /><text x="199.40" y="259.20" font-size="6.0" text-anchor="start" fill="#2b2b2b" font-weight="normal" stroke="#2b2b2b" stroke-width="0.12" textLength="56.50" lengthAdjust="spacingAndGlyphs"  style="">anthracycline_HDACi</text><rect x="261.70" y="254.10" width="2.30" height="5.40" fill="#5e2a70" /><text x="266.40" y="259.20" font-size="6.0" text-anchor="start" fill="#2b2b2b" font-weight="normal" stroke="#2b2b2b" stroke-width="0.12" textLength="51.00" lengthAdjust="spacingAndGlyphs"  style="">HMA_monotherapy</text><rect x="322.70" y="254.10" width="2.30" height="5.40" fill="#6a5a6a" /><text x="327.40" y="259.20" font-size="6.0" text-anchor="start" fill="#2b2b2b" font-weight="normal" stroke="#2b2b2b" stroke-width="0.12" textLength="14.20" lengthAdjust="spacingAndGlyphs"  style="">MEC</text><rect x="99.30" y="263.90" width="2.30" height="5.40" fill="#1d5f70" /><text x="104.00" y="269.00" font-size="6.0" text-anchor="start" fill="#2b2b2b" font-weight="normal" stroke="#2b2b2b" stroke-width="0.12" textLength="74.40" lengthAdjust="spacingAndGlyphs"  style="">nucleosideAnalog_CD33ab</text><rect x="182.70" y="263.40" width="2.30" height="5.40" fill="#2aa58a" /><text x="187.40" y="268.50" font-size="6.0" text-anchor="start" fill="#2b2b2b" font-weight="normal" stroke="#2b2b2b" stroke-width="0.12" textLength="60.00" lengthAdjust="spacingAndGlyphs"  style="">CD33ab_monotherapy</text><rect x="254.20" y="263.40" width="2.30" height="5.40" fill="#3a9a48" /><text x="258.90" y="268.50" font-size="6.0" text-anchor="start" fill="#2b2b2b" font-weight="normal" stroke="#2b2b2b" stroke-width="0.12" textLength="30.30" lengthAdjust="spacingAndGlyphs"  style="">ATRA_ATO</text><rect x="295.20" y="263.40" width="2.30" height="5.40" fill="#e3a030" /><text x="299.90" y="268.50" font-size="6.0" text-anchor="start" fill="#2b2b2b" font-weight="normal" stroke="#2b2b2b" stroke-width="0.12" textLength="35.50" lengthAdjust="spacingAndGlyphs"  style="">Supportive</text><rect x="427.90" y="245.25" width="2.30" height="8.50" fill="#6aaa3a" /><text x="432.80" y="248.30" font-size="6.0" text-anchor="start" fill="#2b2b2b" font-weight="normal" stroke="#2b2b2b" stroke-width="0.12" textLength="66.10" lengthAdjust="spacingAndGlyphs"  style="">anthracycline_nucleoside</text><text x="432.80" y="255.90" font-size="6.0" text-anchor="start" fill="#2b2b2b" font-weight="normal" stroke="#2b2b2b" stroke-width="0.12" textLength="40.90" lengthAdjust="spacingAndGlyphs"  style="">Analog_HDACi</text><text x="62.20" y="279.40" font-size="6.2" text-anchor="start" fill="#2b2b2b" font-weight="normal" stroke="#2b2b2b" stroke-width="0.12" textLength="30.50" lengthAdjust="spacingAndGlyphs"  style="">Subsequent</text><text x="51.40" y="286.90" font-size="6.2" text-anchor="start" fill="#2b2b2b" font-weight="normal" stroke="#2b2b2b" stroke-width="0.12" textLength="41.30" lengthAdjust="spacingAndGlyphs"  style="">targeted therapy</text><line x1="95.6" y1="273" x2="95.6" y2="288.5" stroke="#333" stroke-width="0.9"/><rect x="99.50" y="278.70" width="2.30" height="5.40" fill="#e8a030" /><text x="104.40" y="283.60" font-size="6.0" text-anchor="start" fill="#2b2b2b" font-weight="normal" stroke="#2b2b2b" stroke-width="0.12" textLength="33.10" lengthAdjust="spacingAndGlyphs"  style="">CD33_ADC</text><rect x="142.70" y="278.70" width="2.30" height="5.40" fill="#8a2a8a" /><text x="147.60" y="283.60" font-size="6.0" text-anchor="start" fill="#2b2b2b" font-weight="normal" stroke="#2b2b2b" stroke-width="0.12" textLength="15.40" lengthAdjust="spacingAndGlyphs"  style="">FLT3i</text><rect x="168.80" y="278.70" width="2.30" height="5.40" fill="#5a8ac0" /><text x="173.70" y="283.60" font-size="6.0" text-anchor="start" fill="#2b2b2b" font-weight="normal" stroke="#2b2b2b" stroke-width="0.12" textLength="10.50" lengthAdjust="spacingAndGlyphs"  style="">IDHi</text><text x="41.60" y="296.70" font-size="6.2" text-anchor="start" fill="#2b2b2b" font-weight="normal" stroke="#2b2b2b" stroke-width="0.12" textLength="52.10" lengthAdjust="spacingAndGlyphs"  style="">ELN 2022 risk class</text><line x1="95.6" y1="290.5" x2="95.6" y2="298.8" stroke="#333" stroke-width="0.9"/><rect x="99.50" y="291.90" width="2.30" height="5.40" fill="#3a5a7a" /><text x="104.40" y="296.80" font-size="6.0" text-anchor="start" fill="#2b2b2b" font-weight="normal" stroke="#2b2b2b" stroke-width="0.12" textLength="23.60" lengthAdjust="spacingAndGlyphs"  style="">favorable</text><rect x="134.50" y="291.90" width="2.30" height="5.40" fill="#d8b89a" /><text x="139.40" y="296.80" font-size="6.0" text-anchor="start" fill="#2b2b2b" font-weight="normal" stroke="#2b2b2b" stroke-width="0.12" textLength="32.70" lengthAdjust="spacingAndGlyphs"  style="">intermediate</text><rect x="177.70" y="291.90" width="2.30" height="5.40" fill="#a04020" /><text x="182.60" y="296.80" font-size="6.0" text-anchor="start" fill="#2b2b2b" font-weight="normal" stroke="#2b2b2b" stroke-width="0.12" textLength="19.60" lengthAdjust="spacingAndGlyphs"  style="">adverse</text><text x="6.70" y="323.00" font-size="10.5" text-anchor="start" fill="#111" font-weight="bold" stroke="#111" stroke-width="0.2"   style="">B</text><line x1="45.2" y1="336.2" x2="45.2" y2="439.5" stroke="#111" stroke-width="1.1"/><line x1="42.0" y1="339.45" x2="45.2" y2="339.45" stroke="#111" stroke-width="0.9"/><text x="38.80" y="341.83" font-size="6.6" text-anchor="end" fill="#333" font-weight="normal" stroke="#333" stroke-width="0.12"   style="">50</text><line x1="42.0" y1="358.42" x2="45.2" y2="358.42" stroke="#111" stroke-width="0.9"/><text x="38.80" y="360.80" font-size="6.6" text-anchor="end" fill="#333" font-weight="normal" stroke="#333" stroke-width="0.12"   style="">40</text><line x1="42.0" y1="377.39" x2="45.2" y2="377.39" stroke="#111" stroke-width="0.9"/><text x="38.80" y="379.77" font-size="6.6" text-anchor="end" fill="#333" font-weight="normal" stroke="#333" stroke-width="0.12"   style="">30</text><line x1="42.0" y1="396.36" x2="45.2" y2="396.36" stroke="#111" stroke-width="0.9"/><text x="38.80" y="398.74" font-size="6.6" text-anchor="end" fill="#333" font-weight="normal" stroke="#333" stroke-width="0.12"   style="">20</text><line x1="42.0" y1="415.33" x2="45.2" y2="415.33" stroke="#111" stroke-width="0.9"/><text x="38.80" y="417.71" font-size="6.6" text-anchor="end" fill="#333" font-weight="normal" stroke="#333" stroke-width="0.12"   style="">10</text><line x1="42.0" y1="434.30" x2="45.2" y2="434.30" stroke="#111" stroke-width="0.9"/><text x="38.80" y="436.68" font-size="6.6" text-anchor="end" fill="#333" font-weight="normal" stroke="#333" stroke-width="0.12"   style="">0</text><rect x="51.90" y="340.97" width="17.70" height="93.33" fill="#254a38" /><text x="60.75" y="338.67" font-size="6.4" text-anchor="middle" fill="#333" font-weight="normal" stroke="#333" stroke-width="0.12"   style="">n = 90</text><rect x="77.90" y="384.60" width="17.90" height="49.70" fill="#2d7a60" /><text x="86.85" y="382.30" font-size="6.4" text-anchor="middle" fill="#333" font-weight="normal" stroke="#333" stroke-width="0.12"   style="">n = 48</text><rect x="104.30" y="408.31" width="18.00" height="25.99" fill="#3ba77a" /><text x="113.30" y="406.01" font-size="6.4" text-anchor="middle" fill="#333" font-weight="normal" stroke="#333" stroke-width="0.12"   style="">n = 25</text><rect x="130.40" y="419.79" width="18.00" height="14.51" fill="#55a84b" /><text x="139.40" y="417.49" font-size="6.4" text-anchor="middle" fill="#333" font-weight="normal" stroke="#333" stroke-width="0.12"   style="">n = 14</text><rect x="156.20" y="430.13" width="19.20" height="4.17" fill="#d4cf3e" /><text x="165.80" y="427.83" font-size="6.4" text-anchor="middle" fill="#333" font-weight="normal" stroke="#333" stroke-width="0.12"   style="">n = 4</text><rect x="182.80" y="433.26" width="18.40" height="1.04" fill="#e8c48c" /><text x="192.00" y="430.96" font-size="6.4" text-anchor="middle" fill="#333" font-weight="normal" stroke="#333" stroke-width="0.12"   style="">n = 1</text><line x1="44.7" y1="439" x2="207.7" y2="439" stroke="#111" stroke-width="1.1"/><line x1="60.75" y1="439" x2="60.75" y2="442.0" stroke="#111" stroke-width="0.9"/><text x="60.75" y="450.40" font-size="6.6" text-anchor="middle" fill="#333" font-weight="normal" stroke="#333" stroke-width="0.12"   style="">2</text><line x1="86.85" y1="439" x2="86.85" y2="442.0" stroke="#111" stroke-width="0.9"/><text x="86.85" y="450.40" font-size="6.6" text-anchor="middle" fill="#333" font-weight="normal" stroke="#333" stroke-width="0.12"   style="">3</text><line x1="113.30" y1="439" x2="113.30" y2="442.0" stroke="#111" stroke-width="0.9"/><text x="113.30" y="450.40" font-size="6.6" text-anchor="middle" fill="#333" font-weight="normal" stroke="#333" stroke-width="0.12"   style="">4</text><line x1="139.40" y1="439" x2="139.40" y2="442.0" stroke="#111" stroke-width="0.9"/><text x="139.40" y="450.40" font-size="6.6" text-anchor="middle" fill="#333" font-weight="normal" stroke="#333" stroke-width="0.12"   style="">5</text><line x1="165.80" y1="439" x2="165.80" y2="442.0" stroke="#111" stroke-width="0.9"/><text x="165.80" y="450.40" font-size="6.6" text-anchor="middle" fill="#333" font-weight="normal" stroke="#333" stroke-width="0.12"   style="">6</text><line x1="192.00" y1="439" x2="192.00" y2="442.0" stroke="#111" stroke-width="0.9"/><text x="192.00" y="450.40" font-size="6.6" text-anchor="middle" fill="#333" font-weight="normal" stroke="#333" stroke-width="0.12"   style="">8</text><text x="95.00" y="461.40" font-size="8.0" text-anchor="start" fill="#2b2b2b" font-weight="normal" stroke="#2b2b2b" stroke-width="0.25" textLength="62.80" lengthAdjust="spacingAndGlyphs"  style=""># of samples per patient</text><text transform="translate(26.00,387.50) rotate(-90)" x="0" y="0" font-size="7.0" text-anchor="middle" fill="#2b2b2b" stroke="#2b2b2b" stroke-width="0.22" textLength="33.40" lengthAdjust="spacingAndGlyphs">% of patients</text><text x="6.70" y="488.20" font-size="10.5" text-anchor="start" fill="#111" font-weight="bold" stroke="#111" stroke-width="0.2"   style="">C</text><line x1="44.6" y1="502" x2="44.6" y2="604.9" stroke="#111" stroke-width="1.1"/><line x1="41.4" y1="505.90" x2="44.6" y2="505.90" stroke="#111" stroke-width="0.9"/><text x="38.20" y="508.28" font-size="6.6" text-anchor="end" fill="#333" font-weight="normal" stroke="#333" stroke-width="0.12"   style="">100</text><line x1="41.4" y1="529.38" x2="44.6" y2="529.38" stroke="#111" stroke-width="0.9"/><text x="38.20" y="531.75" font-size="6.6" text-anchor="end" fill="#333" font-weight="normal" stroke="#333" stroke-width="0.12"   style="">75</text><line x1="41.4" y1="552.85" x2="44.6" y2="552.85" stroke="#111" stroke-width="0.9"/><text x="38.20" y="555.23" font-size="6.6" text-anchor="end" fill="#333" font-weight="normal" stroke="#333" stroke-width="0.12"   style="">50</text><line x1="41.4" y1="576.32" x2="44.6" y2="576.32" stroke="#111" stroke-width="0.9"/><text x="38.20" y="578.70" font-size="6.6" text-anchor="end" fill="#333" font-weight="normal" stroke="#333" stroke-width="0.12"   style="">25</text><line x1="41.4" y1="599.80" x2="44.6" y2="599.80" stroke="#111" stroke-width="0.9"/><text x="38.20" y="602.18" font-size="6.6" text-anchor="end" fill="#333" font-weight="normal" stroke="#333" stroke-width="0.12"   style="">0</text><rect x="52.50" y="505.90" width="14.80" height="93.90" fill="#1b2a5f" /><text x="59.90" y="503.60" font-size="6.4" text-anchor="middle" fill="#333" font-weight="normal" stroke="#333" stroke-width="0.12"   style="">n = 182</text><rect x="74.50" y="538.39" width="15.20" height="61.41" fill="#3e3373" /><text x="82.10" y="536.09" font-size="6.4" text-anchor="middle" fill="#333" font-weight="normal" stroke="#333" stroke-width="0.12"   style="">n = 119</text><rect x="96.20" y="560.55" width="15.70" height="39.25" fill="#5a569b" /><text x="104.05" y="558.25" font-size="6.4" text-anchor="middle" fill="#333" font-weight="normal" stroke="#333" stroke-width="0.12"   style="">n = 76</text><rect x="118.40" y="585.90" width="15.40" height="13.90" fill="#b79bd0" /><text x="126.10" y="583.60" font-size="6.4" text-anchor="middle" fill="#333" font-weight="normal" stroke="#333" stroke-width="0.12"   style="">n = 27</text><rect x="140.80" y="589.47" width="15.70" height="10.33" fill="#a9d9e8" /><text x="148.65" y="587.17" font-size="6.4" text-anchor="middle" fill="#333" font-weight="normal" stroke="#333" stroke-width="0.12"   style="">n = 20</text><rect x="162.90" y="593.13" width="15.70" height="6.67" fill="#d8a832" /><text x="170.75" y="590.83" font-size="6.4" text-anchor="middle" fill="#333" font-weight="normal" stroke="#333" stroke-width="0.12"   style="">n = 13</text><rect x="185.30" y="597.73" width="15.50" height="2.07" fill="#e2492a" /><text x="193.05" y="595.43" font-size="6.4" text-anchor="middle" fill="#333" font-weight="normal" stroke="#333" stroke-width="0.12"   style="">n = 4</text><line x1="44.1" y1="604.4" x2="204.7" y2="604.4" stroke="#111" stroke-width="1.1"/><line x1="59.90" y1="604.4" x2="59.90" y2="607.4" stroke="#111" stroke-width="0.9"/><line x1="82.10" y1="604.4" x2="82.10" y2="607.4" stroke="#111" stroke-width="0.9"/><line x1="104.05" y1="604.4" x2="104.05" y2="607.4" stroke="#111" stroke-width="0.9"/><line x1="126.10" y1="604.4" x2="126.10" y2="607.4" stroke="#111" stroke-width="0.9"/><line x1="148.65" y1="604.4" x2="148.65" y2="607.4" stroke="#111" stroke-width="0.9"/><line x1="170.75" y1="604.4" x2="170.75" y2="607.4" stroke="#111" stroke-width="0.9"/><line x1="193.05" y1="604.4" x2="193.05" y2="607.4" stroke="#111" stroke-width="0.9"/><text transform="translate(62.50,612.60) rotate(-45)" x="0" y="0" font-size="6.0" text-anchor="end" fill="#333" stroke="#333" stroke-width="0.12" >Diagnosis</text><text transform="translate(84.70,612.60) rotate(-45)" x="0" y="0" font-size="6.0" text-anchor="end" fill="#333" stroke="#333" stroke-width="0.12" >CR1</text><text transform="translate(106.65,612.60) rotate(-45)" x="0" y="0" font-size="6.0" text-anchor="end" fill="#333" stroke="#333" stroke-width="0.12" >REL1</text><text transform="translate(128.70,612.60) rotate(-45)" x="0" y="0" font-size="6.0" text-anchor="end" fill="#333" stroke="#333" stroke-width="0.12" >REF1</text><text transform="translate(151.25,612.60) rotate(-45)" x="0" y="0" font-size="6.0" text-anchor="end" fill="#333" stroke="#333" stroke-width="0.12" >CR2</text><text transform="translate(173.35,612.60) rotate(-45)" x="0" y="0" font-size="6.0" text-anchor="end" fill="#333" stroke="#333" stroke-width="0.12" >REL2</text><text transform="translate(195.65,612.60) rotate(-45)" x="0" y="0" font-size="6.0" text-anchor="end" fill="#333" stroke="#333" stroke-width="0.12" >REF2</text><text x="104.00" y="642.80" font-size="8.2" text-anchor="start" fill="#2b2b2b" font-weight="normal" stroke="#2b2b2b" stroke-width="0.25" textLength="42.20" lengthAdjust="spacingAndGlyphs"  style="">Sample category</text><text transform="translate(12.90,552.80) rotate(-90)" x="0" y="0" font-size="6.8" text-anchor="middle" fill="#2b2b2b" stroke="#2b2b2b" stroke-width="0.22" textLength="50.50" lengthAdjust="spacingAndGlyphs">% of patients with a</text><text transform="translate(23.30,552.80) rotate(-90)" x="0" y="0" font-size="6.8" text-anchor="middle" fill="#2b2b2b" stroke="#2b2b2b" stroke-width="0.22" textLength="60.80" lengthAdjust="spacingAndGlyphs">sample in each category</text><text x="217.40" y="322.60" font-size="10.5" text-anchor="start" fill="#111" font-weight="bold" stroke="#111" stroke-width="0.2"   style="">D</text><text x="263.00" y="320.60" font-size="7.8" text-anchor="start" fill="#2b2b2b" font-weight="normal" stroke="#2b2b2b" stroke-width="0.12" textLength="61.20" lengthAdjust="spacingAndGlyphs"  style="">Diagnosis vs CR1</text><text x="270.65" y="329.90" font-size="7.8" text-anchor="start" fill="#2b2b2b" font-weight="normal" stroke="#2b2b2b" stroke-width="0.12" textLength="45.90" lengthAdjust="spacingAndGlyphs"  style="">(cohort-level)</text><line x1="241.7" y1="334.881" x2="241.7" y2="439.40000000000003" stroke="#111" stroke-width="1.1"/><line x1="241.2" y1="439.0" x2="345.27329999999995" y2="439.0" stroke="#111" stroke-width="1.1"/><line x1="238.89999999999998" y1="433.80" x2="241.7" y2="433.80" stroke="#111" stroke-width="0.9"/><text x="235.70" y="436.10" font-size="6.4" text-anchor="end" fill="#333" font-weight="normal" stroke="#333" stroke-width="0.12"   style="">0</text><line x1="246.30" y1="439.0" x2="246.30" y2="441.8" stroke="#111" stroke-width="0.9"/><text x="246.30" y="450.60" font-size="6.2" text-anchor="middle" fill="#333" font-weight="normal" stroke="#333" stroke-width="0.12"   style="">0</text><line x1="238.89999999999998" y1="414.85" x2="241.7" y2="414.85" stroke="#111" stroke-width="0.9"/><text x="235.70" y="417.15" font-size="6.4" text-anchor="end" fill="#333" font-weight="normal" stroke="#333" stroke-width="0.12"   style="">10</text><line x1="265.37" y1="439.0" x2="265.37" y2="441.8" stroke="#111" stroke-width="0.9"/><text x="265.37" y="450.60" font-size="6.2" text-anchor="middle" fill="#333" font-weight="normal" stroke="#333" stroke-width="0.12"   style="">10</text><line x1="238.89999999999998" y1="395.90" x2="241.7" y2="395.90" stroke="#111" stroke-width="0.9"/><text x="235.70" y="398.20" font-size="6.4" text-anchor="end" fill="#333" font-weight="normal" stroke="#333" stroke-width="0.12"   style="">20</text><line x1="284.44" y1="439.0" x2="284.44" y2="441.8" stroke="#111" stroke-width="0.9"/><text x="284.44" y="450.60" font-size="6.2" text-anchor="middle" fill="#333" font-weight="normal" stroke="#333" stroke-width="0.12"   style="">20</text><line x1="238.89999999999998" y1="376.95" x2="241.7" y2="376.95" stroke="#111" stroke-width="0.9"/><text x="235.70" y="379.25" font-size="6.4" text-anchor="end" fill="#333" font-weight="normal" stroke="#333" stroke-width="0.12"   style="">30</text><line x1="303.51" y1="439.0" x2="303.51" y2="441.8" stroke="#111" stroke-width="0.9"/><text x="303.51" y="450.60" font-size="6.2" text-anchor="middle" fill="#333" font-weight="normal" stroke="#333" stroke-width="0.12"   style="">30</text><line x1="238.89999999999998" y1="358.00" x2="241.7" y2="358.00" stroke="#111" stroke-width="0.9"/><text x="235.70" y="360.30" font-size="6.4" text-anchor="end" fill="#333" font-weight="normal" stroke="#333" stroke-width="0.12"   style="">40</text><line x1="322.58" y1="439.0" x2="322.58" y2="441.8" stroke="#111" stroke-width="0.9"/><text x="322.58" y="450.60" font-size="6.2" text-anchor="middle" fill="#333" font-weight="normal" stroke="#333" stroke-width="0.12"   style="">40</text><line x1="238.89999999999998" y1="339.05" x2="241.7" y2="339.05" stroke="#111" stroke-width="0.9"/><text x="235.70" y="341.35" font-size="6.4" text-anchor="end" fill="#333" font-weight="normal" stroke="#333" stroke-width="0.12"   style="">50</text><line x1="341.65" y1="439.0" x2="341.65" y2="441.8" stroke="#111" stroke-width="0.9"/><text x="341.65" y="450.60" font-size="6.2" text-anchor="middle" fill="#333" font-weight="normal" stroke="#333" stroke-width="0.12"   style="">50</text><line x1="246.29999999999998" y1="433.8" x2="346.4175" y2="334.3125" stroke="#333" stroke-width="1.05" stroke-dasharray="2.6,2.3"/><text x="247.07" y="461.80" font-size="8.1" text-anchor="start" fill="#2b2b2b" font-weight="normal" stroke="#2b2b2b" stroke-width="0.25" textLength="93.40" lengthAdjust="spacingAndGlyphs"  style="">Diagnosis mut frequency (% patients)</text><text transform="translate(224.90,387.60) rotate(-90)" x="0" y="0" font-size="8.1" text-anchor="middle" fill="#2b2b2b" stroke="#2b2b2b" stroke-width="0.25" textLength="82.00" lengthAdjust="spacingAndGlyphs">CR1 mut frequency (% patients)</text><text x="249.4" y="344.0" font-size="6.2" fill="#2b2b2b" stroke="#2b2b2b" stroke-width="0.12">-log<tspan font-size="3.8" dy="1.6">10</tspan><tspan dy="-1.6" font-style="italic"> P</tspan></text><circle cx="253.8" cy="351.2" r="1.1" fill="none" stroke="#333" stroke-width="0.7"/><circle cx="253.8" cy="361.8" r="3.5" fill="none" stroke="#333" stroke-width="0.7"/><circle cx="253.8" cy="372.5" r="4.7" fill="none" stroke="#333" stroke-width="0.7"/><circle cx="253.8" cy="382.2" r="0.7" fill="#333"/><text x="261.00" y="353.40" font-size="6.2" text-anchor="start" fill="#2b2b2b" font-weight="normal" stroke="#2b2b2b" stroke-width="0.12"   style="">0.0</text><text x="261.00" y="364.00" font-size="6.2" text-anchor="start" fill="#2b2b2b" font-weight="normal" stroke="#2b2b2b" stroke-width="0.12"   style="">5.0</text><text x="261.00" y="374.70" font-size="6.2" text-anchor="start" fill="#2b2b2b" font-weight="normal" stroke="#2b2b2b" stroke-width="0.12"   style="">10.0</text><text x="261.0" y="384.59999999999997" font-size="6.2" fill="#2b2b2b" stroke="#2b2b2b" stroke-width="0.12"><tspan font-style="italic">P</tspan> &lt; .05</text><circle cx="246.60" cy="434.60" r="1.4" fill="#f4f4f4" stroke="#3a2a22" stroke-width="0.8"/><circle cx="246.80" cy="432.60" r="1.3" fill="#ececec" stroke="#3a2a22" stroke-width="0.8"/><circle cx="248.60" cy="431.40" r="1.5" fill="#d8c0a8" stroke="#3a2a22" stroke-width="0.8"/><circle cx="250.40" cy="430.00" r="1.6" fill="#c8a890" stroke="#3a2a22" stroke-width="0.8"/><circle cx="252.40" cy="428.60" r="1.6" fill="#b89888" stroke="#3a2a22" stroke-width="0.8"/><circle cx="254.40" cy="427.40" r="1.5" fill="#a89080" stroke="#3a2a22" stroke-width="0.8"/><circle cx="249.20" cy="434.40" r="1.6" fill="#e8d0b8" stroke="#3a2a22" stroke-width="0.8"/><circle cx="251.60" cy="433.00" r="1.8" fill="#d8b898" stroke="#3a2a22" stroke-width="0.8"/><circle cx="253.60" cy="431.20" r="1.7" fill="#c0a090" stroke="#3a2a22" stroke-width="0.8"/><circle cx="257.00" cy="430.60" r="1.8" fill="#b8a0a0" stroke="#3a2a22" stroke-width="0.8"/><circle cx="257.80" cy="428.00" r="1.5" fill="#9a8a8a" stroke="#3a2a22" stroke-width="0.8"/><circle cx="256.20" cy="426.00" r="1.3" fill="#8a7a7a" stroke="#3a2a22" stroke-width="0.8"/><circle cx="259.20" cy="434.60" r="2.3" fill="#f0d0c8" stroke="#3a2a22" stroke-width="0.8"/><circle cx="255.10" cy="434.30" r="2.5" fill="#f0c8a0" stroke="#3a2a22" stroke-width="0.8"/><rect x="245.10" y="432.60" width="2.2" height="1.6" fill="#fafafa" stroke="#333" stroke-width="0.5"/><rect x="245.10" y="434.80" width="2.2" height="1.6" fill="#fafafa" stroke="#333" stroke-width="0.5"/><rect x="247.30" y="434.80" width="2.2" height="1.6" fill="#fafafa" stroke="#333" stroke-width="0.5"/><circle cx="259.80" cy="426.10" r="2.0" fill="#8a8a94" stroke="#444" stroke-width="0.6"/><circle cx="260.80" cy="419.70" r="1.5" fill="#9a9a90" stroke="#444" stroke-width="0.5"/><circle cx="265.60" cy="430.80" r="2.7" fill="#e8784a" stroke="#6a3020" stroke-width="0.6"/><circle cx="265.60" cy="430.80" r="0.55" fill="#5a2010"/><circle cx="269.60" cy="430.80" r="2.7" fill="#e8784a" stroke="#6a3020" stroke-width="0.6"/><circle cx="269.60" cy="430.80" r="0.55" fill="#5a2010"/><circle cx="270.30" cy="410.50" r="1.5" fill="#c8b0a8" stroke="#4a3a3a" stroke-width="0.6"/><circle cx="277.50" cy="413.70" r="1.6" fill="#a0607a" stroke="#3a2a2a" stroke-width="0.5"/><circle cx="286.00" cy="399.30" r="1.7" fill="#8a3050" stroke="#2a1a1a" stroke-width="0.5"/><circle cx="306.90" cy="386.80" r="1.6" fill="#222" stroke="#111" stroke-width="0.5"/><circle cx="319.00" cy="419.80" r="4.9" fill="#22233a" stroke="#111" stroke-width="0.6"/><circle cx="319.00" cy="419.80" r="2.70" fill="none" stroke="#6a6a8a" stroke-width="0.6"/><circle cx="319.00" cy="419.80" r="0.55" fill="#fff"/><circle cx="306.90" cy="431.20" r="5.3" fill="#5b3c6e" stroke="#2a1a3a" stroke-width="0.6"/><circle cx="306.90" cy="431.20" r="2.92" fill="none" stroke="#a080b0" stroke-width="0.6"/><circle cx="306.90" cy="431.20" r="0.55" fill="#fff"/><line x1="268.7" y1="399.0" x2="270.0" y2="408.6" stroke="#555" stroke-width="0.5"/><line x1="254.0" y1="422.8" x2="256.6" y2="425.2" stroke="#555" stroke-width="0.5"/><text x="288.80" y="401.40" font-size="5.9" text-anchor="start" fill="#2b2b2b" font-weight="normal" stroke="#2b2b2b" stroke-width="0.12"   style="">TET2</text><text x="309.90" y="388.90" font-size="5.9" text-anchor="start" fill="#2b2b2b" font-weight="normal" stroke="#2b2b2b" stroke-width="0.12"   style="">DNMT3A</text><text x="280.50" y="415.90" font-size="5.9" text-anchor="start" fill="#2b2b2b" font-weight="normal" stroke="#2b2b2b" stroke-width="0.12"   style="">IDH2</text><text x="325.10" y="421.90" font-size="5.9" text-anchor="start" fill="#2b2b2b" font-weight="normal" stroke="#2b2b2b" stroke-width="0.12"   style="">FLT3</text><text x="313.00" y="433.30" font-size="5.9" text-anchor="start" fill="#2b2b2b" font-weight="normal" stroke="#2b2b2b" stroke-width="0.12"   style="">NPM1</text><text x="272.90" y="433.50" font-size="5.9" text-anchor="start" fill="#2b2b2b" font-weight="normal" stroke="#2b2b2b" stroke-width="0.12"   style="">NRAS</text><text x="260.20" y="397.70" font-size="5.9" text-anchor="start" fill="#2b2b2b" font-weight="normal" stroke="#2b2b2b" stroke-width="0.12"   style="">ASXL1</text><text x="244.20" y="408.30" font-size="5.9" text-anchor="start" fill="#2b2b2b" font-weight="normal" stroke="#2b2b2b" stroke-width="0.12"   style="">PTPN11</text><text x="244.20" y="413.50" font-size="5.9" text-anchor="start" fill="#2b2b2b" font-weight="normal" stroke="#2b2b2b" stroke-width="0.12"   style="">KIT</text><text x="244.20" y="419.10" font-size="5.9" text-anchor="start" fill="#2b2b2b" font-weight="normal" stroke="#2b2b2b" stroke-width="0.12"   style="">WT1</text><text x="263.60" y="426.30" font-size="5.9" text-anchor="start" fill="#56657f" font-weight="normal" stroke="#56657f" stroke-width="0.12"   style="">chr8gain</text><text x="385.00" y="322.60" font-size="10.5" text-anchor="start" fill="#111" font-weight="bold" stroke="#111" stroke-width="0.2"   style="">E</text><text x="437.95" y="320.60" font-size="7.8" text-anchor="start" fill="#2b2b2b" font-weight="normal" stroke="#2b2b2b" stroke-width="0.12" textLength="46.90" lengthAdjust="spacingAndGlyphs"  style="">CR1 vs REL1</text><text x="439.30" y="329.90" font-size="7.8" text-anchor="start" fill="#2b2b2b" font-weight="normal" stroke="#2b2b2b" stroke-width="0.12" textLength="44.20" lengthAdjust="spacingAndGlyphs"  style="">(cohort-level)</text><line x1="409.2" y1="334.881" x2="409.2" y2="439.40000000000003" stroke="#111" stroke-width="1.1"/><line x1="408.7" y1="439.0" x2="512.7733000000001" y2="439.0" stroke="#111" stroke-width="1.1"/><line x1="406.4" y1="433.80" x2="409.2" y2="433.80" stroke="#111" stroke-width="0.9"/><text x="403.20" y="436.10" font-size="6.4" text-anchor="end" fill="#333" font-weight="normal" stroke="#333" stroke-width="0.12"   style="">0</text><line x1="413.80" y1="439.0" x2="413.80" y2="441.8" stroke="#111" stroke-width="0.9"/><text x="413.80" y="450.60" font-size="6.2" text-anchor="middle" fill="#333" font-weight="normal" stroke="#333" stroke-width="0.12"   style="">0</text><line x1="406.4" y1="414.85" x2="409.2" y2="414.85" stroke="#111" stroke-width="0.9"/><text x="403.20" y="417.15" font-size="6.4" text-anchor="end" fill="#333" font-weight="normal" stroke="#333" stroke-width="0.12"   style="">10</text><line x1="432.87" y1="439.0" x2="432.87" y2="441.8" stroke="#111" stroke-width="0.9"/><text x="432.87" y="450.60" font-size="6.2" text-anchor="middle" fill="#333" font-weight="normal" stroke="#333" stroke-width="0.12"   style="">10</text><line x1="406.4" y1="395.90" x2="409.2" y2="395.90" stroke="#111" stroke-width="0.9"/><text x="403.20" y="398.20" font-size="6.4" text-anchor="end" fill="#333" font-weight="normal" stroke="#333" stroke-width="0.12"   style="">20</text><line x1="451.94" y1="439.0" x2="451.94" y2="441.8" stroke="#111" stroke-width="0.9"/><text x="451.94" y="450.60" font-size="6.2" text-anchor="middle" fill="#333" font-weight="normal" stroke="#333" stroke-width="0.12"   style="">20</text><line x1="406.4" y1="376.95" x2="409.2" y2="376.95" stroke="#111" stroke-width="0.9"/><text x="403.20" y="379.25" font-size="6.4" text-anchor="end" fill="#333" font-weight="normal" stroke="#333" stroke-width="0.12"   style="">30</text><line x1="471.01" y1="439.0" x2="471.01" y2="441.8" stroke="#111" stroke-width="0.9"/><text x="471.01" y="450.60" font-size="6.2" text-anchor="middle" fill="#333" font-weight="normal" stroke="#333" stroke-width="0.12"   style="">30</text><line x1="406.4" y1="358.00" x2="409.2" y2="358.00" stroke="#111" stroke-width="0.9"/><text x="403.20" y="360.30" font-size="6.4" text-anchor="end" fill="#333" font-weight="normal" stroke="#333" stroke-width="0.12"   style="">40</text><line x1="490.08" y1="439.0" x2="490.08" y2="441.8" stroke="#111" stroke-width="0.9"/><text x="490.08" y="450.60" font-size="6.2" text-anchor="middle" fill="#333" font-weight="normal" stroke="#333" stroke-width="0.12"   style="">40</text><line x1="406.4" y1="339.05" x2="409.2" y2="339.05" stroke="#111" stroke-width="0.9"/><text x="403.20" y="341.35" font-size="6.4" text-anchor="end" fill="#333" font-weight="normal" stroke="#333" stroke-width="0.12"   style="">50</text><line x1="509.15" y1="439.0" x2="509.15" y2="441.8" stroke="#111" stroke-width="0.9"/><text x="509.15" y="450.60" font-size="6.2" text-anchor="middle" fill="#333" font-weight="normal" stroke="#333" stroke-width="0.12"   style="">50</text><line x1="413.8" y1="433.8" x2="513.9175" y2="334.3125" stroke="#707070" stroke-width="1.05" stroke-dasharray="2.6,2.3"/><text x="420.58" y="461.80" font-size="8.1" text-anchor="start" fill="#2b2b2b" font-weight="normal" stroke="#2b2b2b" stroke-width="0.25" textLength="81.40" lengthAdjust="spacingAndGlyphs"  style="">CR1 mut frequency (% patients)</text><text transform="translate(392.40,387.60) rotate(-90)" x="0" y="0" font-size="8.1" text-anchor="middle" fill="#2b2b2b" stroke="#2b2b2b" stroke-width="0.25" textLength="83.00" lengthAdjust="spacingAndGlyphs">REL1 mut frequency (% patients)</text><text x="480.20000000000005" y="395.3" font-size="6.2" fill="#2b2b2b" stroke="#2b2b2b" stroke-width="0.12">-log<tspan font-size="3.8" dy="1.6">10</tspan><tspan dy="-1.6" font-style="italic"> P</tspan></text><circle cx="484.6" cy="402.5" r="1.1" fill="none" stroke="#333" stroke-width="0.7"/><circle cx="484.6" cy="413.1" r="3.5" fill="none" stroke="#333" stroke-width="0.7"/><circle cx="484.6" cy="423.8" r="4.7" fill="none" stroke="#333" stroke-width="0.7"/><circle cx="484.6" cy="433.5" r="0.7" fill="#333"/><text x="491.80" y="404.70" font-size="6.2" text-anchor="start" fill="#2b2b2b" font-weight="normal" stroke="#2b2b2b" stroke-width="0.12"   style="">0.0</text><text x="491.80" y="415.30" font-size="6.2" text-anchor="start" fill="#2b2b2b" font-weight="normal" stroke="#2b2b2b" stroke-width="0.12"   style="">5.0</text><text x="491.80" y="426.00" font-size="6.2" text-anchor="start" fill="#2b2b2b" font-weight="normal" stroke="#2b2b2b" stroke-width="0.12"   style="">10.0</text><text x="491.8" y="435.9" font-size="6.2" fill="#2b2b2b" stroke="#2b2b2b" stroke-width="0.12"><tspan font-style="italic">P</tspan> &lt; .05</text><rect x="412.40" y="430.30" width="2.4" height="1.8" fill="#fafafa" stroke="#444" stroke-width="0.5"/><rect x="415.00" y="430.30" width="2.4" height="1.8" fill="#fafafa" stroke="#444" stroke-width="0.5"/><rect x="417.60" y="430.70" width="2.4" height="1.8" fill="#fafafa" stroke="#444" stroke-width="0.5"/><rect x="412.40" y="432.50" width="2.4" height="1.8" fill="#fafafa" stroke="#444" stroke-width="0.5"/><rect x="415.00" y="432.50" width="2.4" height="1.8" fill="#fafafa" stroke="#444" stroke-width="0.5"/><rect x="412.40" y="434.50" width="2.4" height="1.8" fill="#fafafa" stroke="#444" stroke-width="0.5"/><rect x="415.00" y="434.50" width="2.4" height="1.8" fill="#fafafa" stroke="#444" stroke-width="0.5"/><rect x="417.40" y="434.10" width="2.4" height="1.8" fill="#fafafa" stroke="#444" stroke-width="0.5"/><circle cx="428.10" cy="429.60" r="1.3" fill="#fff" stroke="#6a5a50" stroke-width="0.6"/><circle cx="416.90" cy="426.60" r="1.5" fill="#f0c8a8" stroke="#6a4030" stroke-width="0.6"/><circle cx="419.60" cy="426.60" r="1.5" fill="#f0c8a8" stroke="#6a4030" stroke-width="0.6"/><circle cx="415.00" cy="427.80" r="1.3" fill="#f0c8a8" stroke="#6a4030" stroke-width="0.6"/><circle cx="413.50" cy="424.20" r="2.6" fill="#f2c8a8" stroke="#5a3020" stroke-width="0.8"/><circle cx="413.50" cy="424.20" r="1.43" fill="none" stroke="#7a4a30" stroke-width="0.6"/><circle cx="413.50" cy="424.20" r="0.55" fill="#5a2010"/><circle cx="415.40" cy="414.20" r="2.7" fill="#f2c8a8" stroke="#5a3020" stroke-width="0.8"/><circle cx="415.40" cy="414.20" r="1.49" fill="none" stroke="#7a4a30" stroke-width="0.6"/><circle cx="415.40" cy="414.20" r="0.55" fill="#5a2010"/><circle cx="421.50" cy="416.90" r="1.3" fill="#f4e0d4" stroke="#6a4030" stroke-width="0.6"/><circle cx="434.20" cy="409.20" r="1.5" fill="#f0d0c0" stroke="#6a4030" stroke-width="0.6"/><circle cx="437.70" cy="406.90" r="1.5" fill="#f0d0c0" stroke="#6a4030" stroke-width="0.6"/><circle cx="449.20" cy="394.60" r="1.6" fill="#7a3048" stroke="#3a1a2a" stroke-width="0.5"/><circle cx="461.60" cy="377.00" r="1.6" fill="#6a2a40" stroke="#3a1a2a" stroke-width="0.5"/><circle cx="428.30" cy="349.20" r="5.1" fill="#22233a" stroke="#111" stroke-width="0.6"/><circle cx="428.30" cy="349.20" r="2.81" fill="none" stroke="#6a6a8a" stroke-width="0.6"/><circle cx="428.30" cy="349.20" r="0.55" fill="#fff"/><circle cx="417.10" cy="366.70" r="5.3" fill="#62406e" stroke="#2a1a3a" stroke-width="0.6"/><circle cx="417.10" cy="366.70" r="2.92" fill="none" stroke="#b088b8" stroke-width="0.6"/><circle cx="417.10" cy="366.70" r="0.55" fill="#fff"/><line x1="416.9" y1="423.1" x2="428.1" y2="422.4" stroke="#5a6a80" stroke-width="0.5"/><line x1="437.0" y1="402.3" x2="437.2" y2="405.6" stroke="#555" stroke-width="0.5"/><line x1="421.2" y1="410.8" x2="421.4" y2="415.6" stroke="#555" stroke-width="0.5"/><text x="434.60" y="351.50" font-size="5.9" text-anchor="start" fill="#2b2b2b" font-weight="normal" stroke="#2b2b2b" stroke-width="0.12"   style="">FLT3</text><text x="424.20" y="368.90" font-size="5.9" text-anchor="start" fill="#2b2b2b" font-weight="normal" stroke="#2b2b2b" stroke-width="0.12"   style="">NPM1</text><text x="449.00" y="374.30" font-size="5.9" text-anchor="start" fill="#2b2b2b" font-weight="normal" stroke="#2b2b2b" stroke-width="0.12"   style="">DNMT3A</text><text x="442.50" y="391.30" font-size="5.9" text-anchor="start" fill="#2b2b2b" font-weight="normal" stroke="#2b2b2b" stroke-width="0.12"   style="">TET2</text><text x="431.00" y="400.70" font-size="5.9" text-anchor="start" fill="#2b2b2b" font-weight="normal" stroke="#2b2b2b" stroke-width="0.12"   style="">ASXL1</text><text x="420.40" y="405.10" font-size="5.9" text-anchor="start" fill="#2b2b2b" font-weight="normal" stroke="#2b2b2b" stroke-width="0.12"   style="">IDH2</text><text x="411.50" y="410.20" font-size="5.9" text-anchor="start" fill="#2b2b2b" font-weight="normal" stroke="#2b2b2b" stroke-width="0.12"   style="">WT1</text><text x="421.90" y="415.20" font-size="5.9" text-anchor="start" fill="#2b2b2b" font-weight="normal" stroke="#2b2b2b" stroke-width="0.12"   style="">TP53</text><text x="431.60" y="424.90" font-size="5.9" text-anchor="start" fill="#2b2b2b" font-weight="normal" stroke="#2b2b2b" stroke-width="0.12"   style="">ETV6</text><text x="217.00" y="487.40" font-size="10.5" text-anchor="start" fill="#111" font-weight="bold" stroke="#111" stroke-width="0.2"   style="">F</text><text x="261.30" y="485.90" font-size="7.8" text-anchor="start" fill="#2b2b2b" font-weight="normal" stroke="#2b2b2b" stroke-width="0.12" textLength="64.60" lengthAdjust="spacingAndGlyphs"  style="">Diagnosis vs REL1</text><text x="270.65" y="495.20" font-size="7.8" text-anchor="start" fill="#2b2b2b" font-weight="normal" stroke="#2b2b2b" stroke-width="0.12" textLength="45.90" lengthAdjust="spacingAndGlyphs"  style="">(cohort-level)</text><line x1="241.7" y1="500.881" x2="241.7" y2="605.4" stroke="#111" stroke-width="1.1"/><line x1="241.2" y1="605.0" x2="345.27329999999995" y2="605.0" stroke="#111" stroke-width="1.1"/><line x1="238.89999999999998" y1="599.80" x2="241.7" y2="599.80" stroke="#111" stroke-width="0.9"/><text x="235.70" y="602.10" font-size="6.4" text-anchor="end" fill="#333" font-weight="normal" stroke="#333" stroke-width="0.12"   style="">0</text><line x1="246.30" y1="605.0" x2="246.30" y2="607.8" stroke="#111" stroke-width="0.9"/><text x="246.30" y="616.60" font-size="6.2" text-anchor="middle" fill="#333" font-weight="normal" stroke="#333" stroke-width="0.12"   style="">0</text><line x1="238.89999999999998" y1="580.85" x2="241.7" y2="580.85" stroke="#111" stroke-width="0.9"/><text x="235.70" y="583.15" font-size="6.4" text-anchor="end" fill="#333" font-weight="normal" stroke="#333" stroke-width="0.12"   style="">10</text><line x1="265.37" y1="605.0" x2="265.37" y2="607.8" stroke="#111" stroke-width="0.9"/><text x="265.37" y="616.60" font-size="6.2" text-anchor="middle" fill="#333" font-weight="normal" stroke="#333" stroke-width="0.12"   style="">10</text><line x1="238.89999999999998" y1="561.90" x2="241.7" y2="561.90" stroke="#111" stroke-width="0.9"/><text x="235.70" y="564.20" font-size="6.4" text-anchor="end" fill="#333" font-weight="normal" stroke="#333" stroke-width="0.12"   style="">20</text><line x1="284.44" y1="605.0" x2="284.44" y2="607.8" stroke="#111" stroke-width="0.9"/><text x="284.44" y="616.60" font-size="6.2" text-anchor="middle" fill="#333" font-weight="normal" stroke="#333" stroke-width="0.12"   style="">20</text><line x1="238.89999999999998" y1="542.95" x2="241.7" y2="542.95" stroke="#111" stroke-width="0.9"/><text x="235.70" y="545.25" font-size="6.4" text-anchor="end" fill="#333" font-weight="normal" stroke="#333" stroke-width="0.12"   style="">30</text><line x1="303.51" y1="605.0" x2="303.51" y2="607.8" stroke="#111" stroke-width="0.9"/><text x="303.51" y="616.60" font-size="6.2" text-anchor="middle" fill="#333" font-weight="normal" stroke="#333" stroke-width="0.12"   style="">30</text><line x1="238.89999999999998" y1="524.00" x2="241.7" y2="524.00" stroke="#111" stroke-width="0.9"/><text x="235.70" y="526.30" font-size="6.4" text-anchor="end" fill="#333" font-weight="normal" stroke="#333" stroke-width="0.12"   style="">40</text><line x1="322.58" y1="605.0" x2="322.58" y2="607.8" stroke="#111" stroke-width="0.9"/><text x="322.58" y="616.60" font-size="6.2" text-anchor="middle" fill="#333" font-weight="normal" stroke="#333" stroke-width="0.12"   style="">40</text><line x1="238.89999999999998" y1="505.05" x2="241.7" y2="505.05" stroke="#111" stroke-width="0.9"/><text x="235.70" y="507.35" font-size="6.4" text-anchor="end" fill="#333" font-weight="normal" stroke="#333" stroke-width="0.12"   style="">50</text><line x1="341.65" y1="605.0" x2="341.65" y2="607.8" stroke="#111" stroke-width="0.9"/><text x="341.65" y="616.60" font-size="6.2" text-anchor="middle" fill="#333" font-weight="normal" stroke="#333" stroke-width="0.12"   style="">50</text><line x1="246.29999999999998" y1="599.8" x2="346.4175" y2="500.31249999999994" stroke="#707070" stroke-width="1.05" stroke-dasharray="2.6,2.3"/><text x="247.07" y="627.80" font-size="8.1" text-anchor="start" fill="#2b2b2b" font-weight="normal" stroke="#2b2b2b" stroke-width="0.25" textLength="93.40" lengthAdjust="spacingAndGlyphs"  style="">Diagnosis mut frequency (% patients)</text><text transform="translate(224.90,553.60) rotate(-90)" x="0" y="0" font-size="8.1" text-anchor="middle" fill="#2b2b2b" stroke="#2b2b2b" stroke-width="0.25" textLength="83.00" lengthAdjust="spacingAndGlyphs">REL1 mut frequency (% patients)</text><text x="313.6" y="560.8000000000001" font-size="6.2" fill="#2b2b2b" stroke="#2b2b2b" stroke-width="0.12">-log<tspan font-size="3.8" dy="1.6">10</tspan><tspan dy="-1.6" font-style="italic"> P</tspan></text><circle cx="318.0" cy="568.0" r="1.1" fill="none" stroke="#333" stroke-width="0.7"/><circle cx="318.0" cy="578.6" r="3.5" fill="none" stroke="#333" stroke-width="0.7"/><circle cx="318.0" cy="589.3000000000001" r="4.7" fill="none" stroke="#333" stroke-width="0.7"/><circle cx="318.0" cy="599.0" r="0.7" fill="#333"/><text x="325.20" y="570.20" font-size="6.2" text-anchor="start" fill="#2b2b2b" font-weight="normal" stroke="#2b2b2b" stroke-width="0.12"   style="">0.0</text><text x="325.20" y="580.80" font-size="6.2" text-anchor="start" fill="#2b2b2b" font-weight="normal" stroke="#2b2b2b" stroke-width="0.12"   style="">5.0</text><text x="325.20" y="591.50" font-size="6.2" text-anchor="start" fill="#2b2b2b" font-weight="normal" stroke="#2b2b2b" stroke-width="0.12"   style="">10.0</text><text x="325.2" y="601.4" font-size="6.2" fill="#2b2b2b" stroke="#2b2b2b" stroke-width="0.12"><tspan font-style="italic">P</tspan> &lt; .05</text><circle cx="250.50" cy="588.80" r="1.6" fill="#f6f2ee" stroke="#4e4038" stroke-width="0.65"/><circle cx="254.20" cy="588.80" r="1.6" fill="#f6f2ee" stroke="#4e4038" stroke-width="0.65"/><circle cx="257.80" cy="588.80" r="1.6" fill="#f6f2ee" stroke="#4e4038" stroke-width="0.65"/><circle cx="247.20" cy="591.70" r="1.6" fill="#f6f2ee" stroke="#4e4038" stroke-width="0.65"/><circle cx="250.80" cy="591.70" r="1.6" fill="#f6f2ee" stroke="#4e4038" stroke-width="0.65"/><circle cx="254.40" cy="591.70" r="1.6" fill="#f6f2ee" stroke="#4e4038" stroke-width="0.65"/><circle cx="258.00" cy="591.70" r="1.6" fill="#f6f2ee" stroke="#4e4038" stroke-width="0.65"/><circle cx="261.20" cy="591.70" r="1.6" fill="#f6f2ee" stroke="#4e4038" stroke-width="0.65"/><circle cx="246.60" cy="594.50" r="1.6" fill="#f6f2ee" stroke="#4e4038" stroke-width="0.65"/><circle cx="250.20" cy="594.50" r="1.6" fill="#f6f2ee" stroke="#4e4038" stroke-width="0.65"/><circle cx="253.80" cy="594.50" r="1.6" fill="#f6f2ee" stroke="#4e4038" stroke-width="0.65"/><circle cx="257.40" cy="594.50" r="1.6" fill="#f6f2ee" stroke="#4e4038" stroke-width="0.65"/><circle cx="260.80" cy="594.50" r="1.6" fill="#f6f2ee" stroke="#4e4038" stroke-width="0.65"/><circle cx="246.60" cy="597.20" r="1.6" fill="#f6f2ee" stroke="#4e4038" stroke-width="0.65"/><circle cx="250.20" cy="597.20" r="1.6" fill="#f6f2ee" stroke="#4e4038" stroke-width="0.65"/><circle cx="253.80" cy="597.20" r="1.6" fill="#f6f2ee" stroke="#4e4038" stroke-width="0.65"/><circle cx="257.60" cy="597.20" r="1.6" fill="#f6f2ee" stroke="#4e4038" stroke-width="0.65"/><circle cx="261.00" cy="597.20" r="1.6" fill="#f6f2ee" stroke="#4e4038" stroke-width="0.65"/><circle cx="246.60" cy="599.60" r="1.6" fill="#f6f2ee" stroke="#4e4038" stroke-width="0.65"/><circle cx="250.20" cy="599.60" r="1.6" fill="#f6f2ee" stroke="#4e4038" stroke-width="0.65"/><circle cx="253.60" cy="599.60" r="1.6" fill="#f6f2ee" stroke="#4e4038" stroke-width="0.65"/><circle cx="257.30" cy="599.50" r="2.2" fill="#fff" stroke="#c06a2a" stroke-width="0.8"/><circle cx="257.30" cy="599.50" r="1.0" fill="#f4c8a0" stroke="#c06a2a" stroke-width="0.5"/><circle cx="258.80" cy="579.70" r="1.6" fill="#fff" stroke="#8a5a3a" stroke-width="0.65"/><circle cx="260.20" cy="582.60" r="1.6" fill="#fff" stroke="#8a5a3a" stroke-width="0.65"/><circle cx="266.20" cy="592.20" r="1.5" fill="#fff" stroke="#b0683a" stroke-width="0.65"/><circle cx="269.80" cy="589.80" r="1.5" fill="#fff" stroke="#b0683a" stroke-width="0.65"/><circle cx="270.60" cy="572.30" r="1.7" fill="#fff" stroke="#9a5a3a" stroke-width="0.7"/><circle cx="277.70" cy="574.60" r="1.6" fill="#7a4a5a" stroke="#3a2a2a" stroke-width="0.5"/><circle cx="285.70" cy="559.80" r="1.7" fill="#7a2a3a" stroke="#3a1a1a" stroke-width="0.5"/><circle cx="306.90" cy="542.30" r="1.8" fill="#222" stroke="#111" stroke-width="0.4"/><circle cx="306.90" cy="532.20" r="1.8" fill="#222" stroke="#111" stroke-width="0.4"/><circle cx="319.20" cy="514.60" r="1.8" fill="#222" stroke="#111" stroke-width="0.4"/><line x1="259.6" y1="599.6" x2="265.2" y2="599.6" stroke="#5a6a80" stroke-width="0.5"/><text x="313.00" y="518.10" font-size="5.9" text-anchor="end" fill="#2b2b2b" font-weight="normal" stroke="#2b2b2b" stroke-width="0.12"   style="">FLT3</text><text x="300.80" y="533.10" font-size="5.9" text-anchor="end" fill="#2b2b2b" font-weight="normal" stroke="#2b2b2b" stroke-width="0.12"   style="">NPM1</text><text x="311.00" y="545.90" font-size="5.9" text-anchor="start" fill="#2b2b2b" font-weight="normal" stroke="#2b2b2b" stroke-width="0.12"   style="">DNMT3A</text><text x="283.00" y="556.70" font-size="5.9" text-anchor="end" fill="#2b2b2b" font-weight="normal" stroke="#2b2b2b" stroke-width="0.12"   style="">TET2</text><text x="270.00" y="569.50" font-size="5.9" text-anchor="end" fill="#2b2b2b" font-weight="normal" stroke="#2b2b2b" stroke-width="0.12"   style="">ASXL1</text><text x="280.80" y="576.70" font-size="5.9" text-anchor="start" fill="#2b2b2b" font-weight="normal" stroke="#2b2b2b" stroke-width="0.12"   style="">IDH2</text><text x="266.00" y="602.30" font-size="5.9" text-anchor="start" fill="#3e4858" font-weight="normal" stroke="#3e4858" stroke-width="0.12"   style="">BCORL1</text><text x="385.00" y="487.60" font-size="10.5" text-anchor="start" fill="#111" font-weight="bold" stroke="#111" stroke-width="0.2"   style="">G</text><text x="436.40" y="485.90" font-size="7.8" text-anchor="start" fill="#2b2b2b" font-weight="normal" stroke="#2b2b2b" stroke-width="0.12" textLength="49.20" lengthAdjust="spacingAndGlyphs"  style="">REF1 vs REL1</text><text x="438.80" y="495.20" font-size="7.8" text-anchor="start" fill="#2b2b2b" font-weight="normal" stroke="#2b2b2b" stroke-width="0.12" textLength="44.40" lengthAdjust="spacingAndGlyphs"  style="">(cohort-level)</text><line x1="409.2" y1="500.881" x2="409.2" y2="605.4" stroke="#111" stroke-width="1.1"/><line x1="408.7" y1="605.0" x2="512.7733000000001" y2="605.0" stroke="#111" stroke-width="1.1"/><line x1="406.4" y1="599.80" x2="409.2" y2="599.80" stroke="#111" stroke-width="0.9"/><text x="403.20" y="602.10" font-size="6.4" text-anchor="end" fill="#333" font-weight="normal" stroke="#333" stroke-width="0.12"   style="">0</text><line x1="413.80" y1="605.0" x2="413.80" y2="607.8" stroke="#111" stroke-width="0.9"/><text x="413.80" y="616.60" font-size="6.2" text-anchor="middle" fill="#333" font-weight="normal" stroke="#333" stroke-width="0.12"   style="">0</text><line x1="406.4" y1="580.85" x2="409.2" y2="580.85" stroke="#111" stroke-width="0.9"/><text x="403.20" y="583.15" font-size="6.4" text-anchor="end" fill="#333" font-weight="normal" stroke="#333" stroke-width="0.12"   style="">10</text><line x1="432.87" y1="605.0" x2="432.87" y2="607.8" stroke="#111" stroke-width="0.9"/><text x="432.87" y="616.60" font-size="6.2" text-anchor="middle" fill="#333" font-weight="normal" stroke="#333" stroke-width="0.12"   style="">10</text><line x1="406.4" y1="561.90" x2="409.2" y2="561.90" stroke="#111" stroke-width="0.9"/><text x="403.20" y="564.20" font-size="6.4" text-anchor="end" fill="#333" font-weight="normal" stroke="#333" stroke-width="0.12"   style="">20</text><line x1="451.94" y1="605.0" x2="451.94" y2="607.8" stroke="#111" stroke-width="0.9"/><text x="451.94" y="616.60" font-size="6.2" text-anchor="middle" fill="#333" font-weight="normal" stroke="#333" stroke-width="0.12"   style="">20</text><line x1="406.4" y1="542.95" x2="409.2" y2="542.95" stroke="#111" stroke-width="0.9"/><text x="403.20" y="545.25" font-size="6.4" text-anchor="end" fill="#333" font-weight="normal" stroke="#333" stroke-width="0.12"   style="">30</text><line x1="471.01" y1="605.0" x2="471.01" y2="607.8" stroke="#111" stroke-width="0.9"/><text x="471.01" y="616.60" font-size="6.2" text-anchor="middle" fill="#333" font-weight="normal" stroke="#333" stroke-width="0.12"   style="">30</text><line x1="406.4" y1="524.00" x2="409.2" y2="524.00" stroke="#111" stroke-width="0.9"/><text x="403.20" y="526.30" font-size="6.4" text-anchor="end" fill="#333" font-weight="normal" stroke="#333" stroke-width="0.12"   style="">40</text><line x1="490.08" y1="605.0" x2="490.08" y2="607.8" stroke="#111" stroke-width="0.9"/><text x="490.08" y="616.60" font-size="6.2" text-anchor="middle" fill="#333" font-weight="normal" stroke="#333" stroke-width="0.12"   style="">40</text><line x1="406.4" y1="505.05" x2="409.2" y2="505.05" stroke="#111" stroke-width="0.9"/><text x="403.20" y="507.35" font-size="6.4" text-anchor="end" fill="#333" font-weight="normal" stroke="#333" stroke-width="0.12"   style="">50</text><line x1="509.15" y1="605.0" x2="509.15" y2="607.8" stroke="#111" stroke-width="0.9"/><text x="509.15" y="616.60" font-size="6.2" text-anchor="middle" fill="#333" font-weight="normal" stroke="#333" stroke-width="0.12"   style="">50</text><line x1="413.8" y1="599.8" x2="513.9175" y2="500.31249999999994" stroke="#707070" stroke-width="1.05" stroke-dasharray="2.6,2.3"/><text x="420.08" y="627.80" font-size="8.1" text-anchor="start" fill="#2b2b2b" font-weight="normal" stroke="#2b2b2b" stroke-width="0.25" textLength="82.40" lengthAdjust="spacingAndGlyphs"  style="">REF1 mut frequency (% patients)</text><text transform="translate(392.40,553.60) rotate(-90)" x="0" y="0" font-size="8.1" text-anchor="middle" fill="#2b2b2b" stroke="#2b2b2b" stroke-width="0.25" textLength="83.00" lengthAdjust="spacingAndGlyphs">REL1 mut frequency (% patients)</text><text x="480.1" y="560.8000000000001" font-size="6.2" fill="#2b2b2b" stroke="#2b2b2b" stroke-width="0.12">-log<tspan font-size="3.8" dy="1.6">10</tspan><tspan dy="-1.6" font-style="italic"> P</tspan></text><circle cx="484.5" cy="568.0" r="1.1" fill="none" stroke="#333" stroke-width="0.7"/><circle cx="484.5" cy="578.6" r="3.5" fill="none" stroke="#333" stroke-width="0.7"/><circle cx="484.5" cy="589.3000000000001" r="4.7" fill="none" stroke="#333" stroke-width="0.7"/><circle cx="484.5" cy="599.0" r="0.7" fill="#333"/><text x="491.70" y="570.20" font-size="6.2" text-anchor="start" fill="#2b2b2b" font-weight="normal" stroke="#2b2b2b" stroke-width="0.12"   style="">0.0</text><text x="491.70" y="580.80" font-size="6.2" text-anchor="start" fill="#2b2b2b" font-weight="normal" stroke="#2b2b2b" stroke-width="0.12"   style="">5.0</text><text x="491.70" y="591.50" font-size="6.2" text-anchor="start" fill="#2b2b2b" font-weight="normal" stroke="#2b2b2b" stroke-width="0.12"   style="">10.0</text><text x="491.7" y="601.4" font-size="6.2" fill="#2b2b2b" stroke="#2b2b2b" stroke-width="0.12"><tspan font-style="italic">P</tspan> &lt; .05</text><circle cx="413.80" cy="589.30" r="1.4" fill="#faf8f6" stroke="#6a5548" stroke-width="0.65"/><circle cx="413.80" cy="592.00" r="1.4" fill="#faf8f6" stroke="#6a5548" stroke-width="0.65"/><circle cx="413.80" cy="594.60" r="1.4" fill="#faf8f6" stroke="#6a5548" stroke-width="0.65"/><circle cx="413.80" cy="597.30" r="1.4" fill="#faf8f6" stroke="#6a5548" stroke-width="0.65"/><circle cx="413.80" cy="599.90" r="1.4" fill="#faf8f6" stroke="#6a5548" stroke-width="0.65"/><circle cx="420.90" cy="589.30" r="1.4" fill="#faf8f6" stroke="#6a5548" stroke-width="0.65"/><circle cx="420.90" cy="592.00" r="1.4" fill="#faf8f6" stroke="#6a5548" stroke-width="0.65"/><circle cx="420.90" cy="594.60" r="1.4" fill="#faf8f6" stroke="#6a5548" stroke-width="0.65"/><circle cx="420.90" cy="597.30" r="1.4" fill="#faf8f6" stroke="#6a5548" stroke-width="0.65"/><circle cx="420.90" cy="599.90" r="1.4" fill="#faf8f6" stroke="#6a5548" stroke-width="0.65"/><circle cx="427.80" cy="594.10" r="1.4" fill="#faf8f6" stroke="#6a5548" stroke-width="0.65"/><circle cx="427.80" cy="597.00" r="1.4" fill="#faf8f6" stroke="#6a5548" stroke-width="0.65"/><circle cx="427.80" cy="599.90" r="1.4" fill="#faf8f6" stroke="#6a5548" stroke-width="0.65"/><circle cx="434.80" cy="592.20" r="1.5" fill="#fff" stroke="#8a5a60" stroke-width="0.65"/><circle cx="434.80" cy="581.90" r="1.5" fill="#fff" stroke="#7a5a5a" stroke-width="0.65"/><circle cx="435.00" cy="574.60" r="1.5" fill="#fff" stroke="#8a5a60" stroke-width="0.65"/><circle cx="442.00" cy="572.00" r="1.5" fill="#fff" stroke="#7a5a5a" stroke-width="0.65"/><circle cx="434.50" cy="542.30" r="1.5" fill="#fff" stroke="#9a5a3a" stroke-width="0.65"/><circle cx="434.50" cy="532.20" r="2.7" fill="#f4c8a0" stroke="#a05a2a" stroke-width="0.8"/><circle cx="434.50" cy="532.20" r="1.49" fill="none" stroke="#a05a2a" stroke-width="0.6"/><circle cx="449.20" cy="559.80" r="1.7" fill="#7a3048" stroke="#3a1a2a" stroke-width="0.5"/><circle cx="463.00" cy="579.20" r="1.7" fill="#6a2a40" stroke="#3a1a2a" stroke-width="0.5"/><circle cx="498.50" cy="514.60" r="1.8" fill="#222" stroke="#111" stroke-width="0.4"/><text x="493.00" y="515.80" font-size="5.9" text-anchor="end" fill="#2b2b2b" font-weight="normal" stroke="#2b2b2b" stroke-width="0.12"   style="">FLT3</text><text x="433.80" y="528.10" font-size="5.9" text-anchor="middle" fill="#2b2b2b" font-weight="normal" stroke="#2b2b2b" stroke-width="0.12"   style="">NPM1</text><text x="438.50" y="545.90" font-size="5.9" text-anchor="start" fill="#2b2b2b" font-weight="normal" stroke="#2b2b2b" stroke-width="0.12"   style="">DNMT3A</text><text x="449.20" y="556.70" font-size="5.9" text-anchor="end" fill="#2b2b2b" font-weight="normal" stroke="#2b2b2b" stroke-width="0.12"   style="">TET2</text><text x="437.20" y="570.60" font-size="5.9" text-anchor="end" fill="#2b2b2b" font-weight="normal" stroke="#2b2b2b" stroke-width="0.12"   style="">ASXL1</text><text x="429.50" y="578.00" font-size="5.9" text-anchor="end" fill="#2b2b2b" font-weight="normal" stroke="#2b2b2b" stroke-width="0.12"   style="">IDH2</text><text x="438.20" y="585.10" font-size="5.9" text-anchor="start" fill="#2b2b2b" font-weight="normal" stroke="#2b2b2b" stroke-width="0.12"   style="">TP53</text><text x="467.60" y="588.40" font-size="5.9" text-anchor="middle" fill="#2b2b2b" font-weight="normal" stroke="#2b2b2b" stroke-width="0.12"   style="">WT1</text><rect x="0.5" y="0.5" width="519" height="650" fill="none" stroke="#555" stroke-width="1"/></svg>
</body></html>
